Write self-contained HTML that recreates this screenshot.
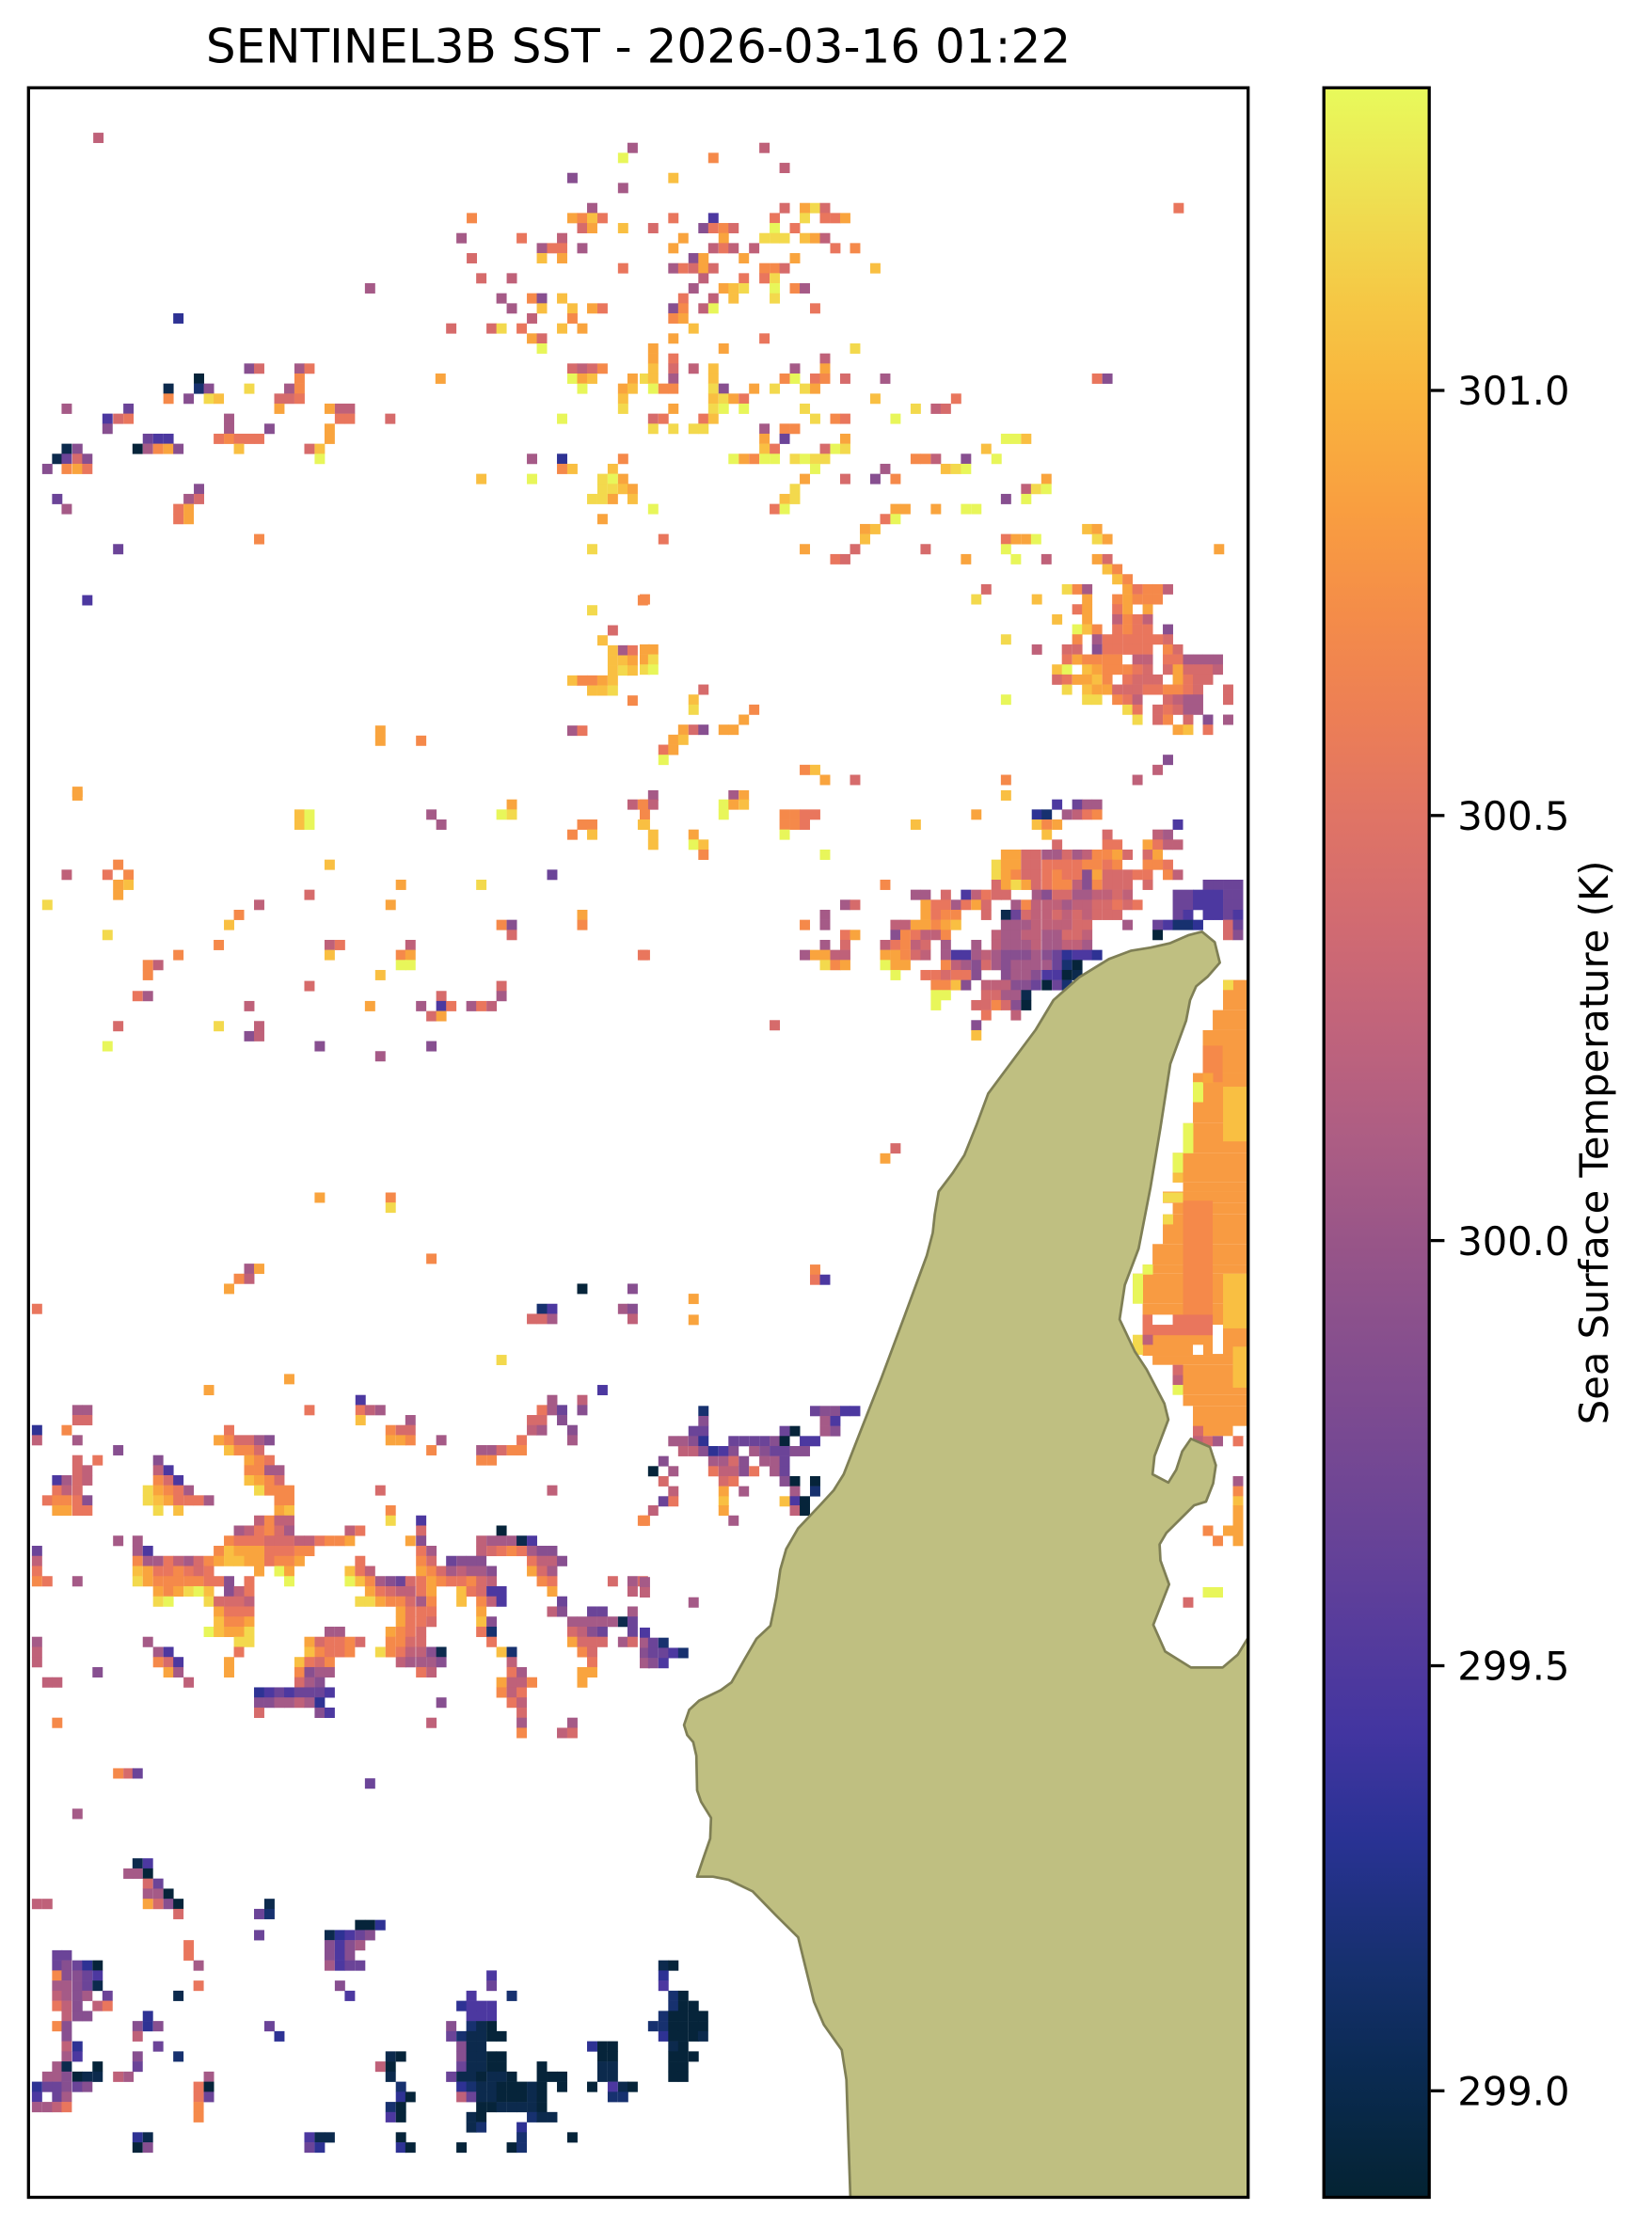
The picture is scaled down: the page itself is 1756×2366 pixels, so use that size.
<!DOCTYPE html>
<html><head><meta charset="utf-8"><style>
html,body{margin:0;padding:0;background:#fff;}
svg{display:block;}
.y{fill:#e8f65a}.g{fill:#f3d94d}.k{fill:#f9bf42}.o{fill:#f9a43e}.r{fill:#f5894a}.s{fill:#e9765d}.p{fill:#d66b6b}.m{fill:#bf6179}.u{fill:#a55a87}.v{fill:#874f90}.w{fill:#6b4498}.i{fill:#4c38a0}.b{fill:#2e3294}.d{fill:#17316f}.n{fill:#0c2a4d}.z{fill:#06243a}.q{fill:#f89b42}.x{fill:#fff}
text{font-family:"DejaVu Sans","Liberation Sans",sans-serif;fill:#000;}
</style></head><body>
<svg width="1756" height="2366" viewBox="0 0 1756 2366" xmlns="http://www.w3.org/2000/svg">
<defs>
<rect id="c" width="26" height="22.6"/>
<clipPath id="ax"><rect x="30.3" y="93.3" width="1296.4" height="2242.2"/></clipPath>
<linearGradient id="cm" x1="0" y1="1" x2="0" y2="0">
<stop offset="0" stop-color="#042333"/><stop offset="0.03" stop-color="#072742"/><stop offset="0.065" stop-color="#0b2b55"/><stop offset="0.11" stop-color="#16306e"/><stop offset="0.17" stop-color="#293294"/><stop offset="0.22" stop-color="#4235a0"/><stop offset="0.27" stop-color="#573c9c"/><stop offset="0.32" stop-color="#6a4496"/><stop offset="0.37" stop-color="#7b4a91"/><stop offset="0.42" stop-color="#8c518c"/><stop offset="0.453" stop-color="#985588"/><stop offset="0.5" stop-color="#ac5d84"/><stop offset="0.55" stop-color="#bf637c"/><stop offset="0.6" stop-color="#d06a72"/><stop offset="0.655" stop-color="#e07465"/><stop offset="0.7" stop-color="#ec7e56"/><stop offset="0.75" stop-color="#f48c49"/><stop offset="0.8" stop-color="#f99e40"/><stop offset="0.856" stop-color="#f9b53e"/><stop offset="0.9" stop-color="#f5c845"/><stop offset="0.95" stop-color="#eee052"/><stop offset="1" stop-color="#e8fa5b"/>
</linearGradient>
</defs>
<rect width="1756" height="2366" fill="#fff"/>
<text x="678.5" y="66.5" font-size="50" text-anchor="middle">SENTINEL3B SST - 2026-03-16 01:22</text>
<g clip-path="url(#ax)">
<!-- Z4 -->
<g transform="translate(20 80) scale(0.42092 0.48469)">
<use href="#c" x="188" y="126" class="m"/><use href="#c" x="1537" y="148" class="u"/><use href="#c" x="1513" y="170" class="y"/><use href="#c" x="1385" y="214" class="v"/><use href="#c" x="1513" y="236" class="u"/><use href="#c" x="1435" y="280" class="u"/>
<use href="#c" x="1131" y="302" class="r"/><use href="#c" x="1385" y="302" class="o"/><use href="#c" x="1410" y="302" class="r"/><use href="#c" x="1435" y="302" class="k"/><use href="#c" x="1461" y="302" class="s"/>
<use href="#c" x="1410" y="324" class="p"/><use href="#c" x="1435" y="324" class="o"/><use href="#c" x="1513" y="324" class="k"/>
<use href="#c" x="1105" y="346" class="u"/><use href="#c" x="1257" y="346" class="s"/><use href="#c" x="1359" y="346" class="m"/>
<use href="#c" x="1308" y="368" class="u"/><use href="#c" x="1334" y="368" class="s"/><use href="#c" x="1359" y="368" class="s"/><use href="#c" x="1410" y="368" class="u"/>
<use href="#c" x="1131" y="390" class="p"/><use href="#c" x="1308" y="390" class="k"/><use href="#c" x="1359" y="390" class="o"/>
<use href="#c" x="1513" y="412" class="s"/><use href="#c" x="1155" y="434" class="p"/><use href="#c" x="1232" y="434" class="m"/><use href="#c" x="874" y="456" class="u"/>
<use href="#c" x="1206" y="478" class="u"/><use href="#c" x="1283" y="478" class="r"/><use href="#c" x="1308" y="478" class="v"/><use href="#c" x="1359" y="478" class="k"/>
<use href="#c" x="1232" y="500" class="u"/><use href="#c" x="1308" y="500" class="k"/><use href="#c" x="1385" y="500" class="k"/><use href="#c" x="1435" y="500" class="o"/><use href="#c" x="1461" y="500" class="s"/>
<use href="#c" x="390" y="522" class="b"/><use href="#c" x="1283" y="522" class="m"/><use href="#c" x="1385" y="522" class="r"/>
<use href="#c" x="1079" y="544" class="p"/><use href="#c" x="1181" y="544" class="p"/><use href="#c" x="1206" y="544" class="g"/><use href="#c" x="1257" y="544" class="s"/><use href="#c" x="1359" y="544" class="k"/><use href="#c" x="1410" y="544" class="o"/>
<use href="#c" x="1283" y="566" class="o"/><use href="#c" x="1308" y="566" class="p"/><use href="#c" x="1308" y="588" class="y"/>
<use href="#c" x="569" y="632" class="v"/><use href="#c" x="594" y="632" class="p"/><use href="#c" x="696" y="632" class="u"/><use href="#c" x="721" y="632" class="s"/><use href="#c" x="1385" y="632" class="p"/><use href="#c" x="1410" y="632" class="m"/><use href="#c" x="1435" y="632" class="p"/><use href="#c" x="1461" y="632" class="r"/>
<use href="#c" x="442" y="654" class="z"/><use href="#c" x="696" y="654" class="r"/><use href="#c" x="1052" y="654" class="o"/><use href="#c" x="1385" y="654" class="y"/><use href="#c" x="1410" y="654" class="o"/><use href="#c" x="1435" y="654" class="k"/><use href="#c" x="1537" y="654" class="o"/>
<use href="#c" x="365" y="676" class="n"/><use href="#c" x="442" y="676" class="d"/><use href="#c" x="467" y="676" class="v"/><use href="#c" x="569" y="676" class="g"/><use href="#c" x="670" y="676" class="u"/><use href="#c" x="696" y="676" class="r"/><use href="#c" x="1410" y="676" class="y"/><use href="#c" x="1513" y="676" class="o"/><use href="#c" x="1537" y="676" class="k"/>
<use href="#c" x="365" y="698" class="r"/><use href="#c" x="416" y="698" class="v"/><use href="#c" x="467" y="698" class="g"/><use href="#c" x="492" y="698" class="k"/><use href="#c" x="645" y="698" class="p"/><use href="#c" x="670" y="698" class="p"/><use href="#c" x="696" y="698" class="s"/><use href="#c" x="1513" y="698" class="k"/>
<use href="#c" x="108" y="720" class="u"/><use href="#c" x="264" y="720" class="w"/><use href="#c" x="645" y="720" class="o"/><use href="#c" x="772" y="720" class="o"/><use href="#c" x="798" y="720" class="m"/><use href="#c" x="823" y="720" class="m"/><use href="#c" x="1513" y="720" class="g"/>
<use href="#c" x="211" y="742" class="i"/><use href="#c" x="238" y="742" class="p"/><use href="#c" x="264" y="742" class="s"/><use href="#c" x="518" y="742" class="u"/><use href="#c" x="798" y="742" class="s"/><use href="#c" x="823" y="742" class="s"/><use href="#c" x="925" y="742" class="p"/><use href="#c" x="1359" y="742" class="y"/>
<use href="#c" x="211" y="764" class="v"/><use href="#c" x="518" y="764" class="u"/><use href="#c" x="620" y="764" class="v"/><use href="#c" x="772" y="764" class="o"/>
<use href="#c" x="313" y="786" class="w"/><use href="#c" x="339" y="786" class="i"/><use href="#c" x="365" y="786" class="i"/><use href="#c" x="492" y="786" class="s"/><use href="#c" x="518" y="786" class="r"/><use href="#c" x="543" y="786" class="s"/><use href="#c" x="569" y="786" class="s"/><use href="#c" x="594" y="786" class="s"/><use href="#c" x="772" y="786" class="o"/>
<use href="#c" x="108" y="808" class="n"/><use href="#c" x="135" y="808" class="v"/><use href="#c" x="287" y="808" class="z"/><use href="#c" x="313" y="808" class="u"/><use href="#c" x="339" y="808" class="r"/><use href="#c" x="365" y="808" class="o"/><use href="#c" x="390" y="808" class="v"/><use href="#c" x="543" y="808" class="k"/><use href="#c" x="721" y="808" class="p"/><use href="#c" x="747" y="808" class="k"/>
<use href="#c" x="84" y="830" class="n"/><use href="#c" x="108" y="830" class="w"/><use href="#c" x="135" y="830" class="p"/><use href="#c" x="160" y="830" class="v"/><use href="#c" x="747" y="830" class="y"/><use href="#c" x="1283" y="830" class="u"/><use href="#c" x="1359" y="830" class="b"/><use href="#c" x="1513" y="830" class="r"/>
<use href="#c" x="59" y="852" class="v"/><use href="#c" x="108" y="852" class="r"/><use href="#c" x="135" y="852" class="o"/><use href="#c" x="160" y="852" class="s"/><use href="#c" x="1359" y="852" class="r"/><use href="#c" x="1385" y="852" class="k"/><use href="#c" x="1487" y="852" class="k"/>
<use href="#c" x="1155" y="874" class="k"/><use href="#c" x="1283" y="874" class="y"/><use href="#c" x="1461" y="874" class="g"/><use href="#c" x="1487" y="874" class="y"/><use href="#c" x="1513" y="874" class="o"/>
<use href="#c" x="442" y="896" class="v"/><use href="#c" x="1461" y="896" class="g"/><use href="#c" x="1487" y="896" class="g"/><use href="#c" x="1513" y="896" class="k"/><use href="#c" x="1537" y="896" class="o"/>
<use href="#c" x="84" y="918" class="w"/><use href="#c" x="416" y="918" class="u"/><use href="#c" x="442" y="918" class="p"/><use href="#c" x="1435" y="918" class="g"/><use href="#c" x="1461" y="918" class="g"/><use href="#c" x="1487" y="918" class="o"/><use href="#c" x="1537" y="918" class="k"/>
<use href="#c" x="108" y="940" class="u"/><use href="#c" x="390" y="940" class="s"/><use href="#c" x="416" y="940" class="o"/>
<use href="#c" x="390" y="962" class="s"/><use href="#c" x="416" y="962" class="o"/><use href="#c" x="1461" y="962" class="o"/>
<use href="#c" x="594" y="1006" class="r"/><use href="#c" x="238" y="1028" class="w"/><use href="#c" x="1435" y="1028" class="g"/>
<use href="#c" x="160" y="1140" class="i"/><use href="#c" x="1563" y="1140" class="r"/><use href="#c" x="1435" y="1162" class="g"/><use href="#c" x="1487" y="1206" class="p"/><use href="#c" x="1461" y="1228" class="k"/>
<use href="#c" x="1487" y="1250" class="k"/><use href="#c" x="1513" y="1250" class="u"/><use href="#c" x="1537" y="1250" class="s"/>
<use href="#c" x="1487" y="1272" class="k"/><use href="#c" x="1513" y="1272" class="k"/><use href="#c" x="1537" y="1272" class="o"/>
<use href="#c" x="1487" y="1294" class="k"/><use href="#c" x="1513" y="1294" class="g"/><use href="#c" x="1537" y="1294" class="k"/>
<use href="#c" x="1385" y="1316" class="k"/><use href="#c" x="1410" y="1316" class="r"/><use href="#c" x="1435" y="1316" class="r"/><use href="#c" x="1461" y="1316" class="o"/><use href="#c" x="1487" y="1316" class="k"/>
<use href="#c" x="1435" y="1338" class="k"/><use href="#c" x="1461" y="1338" class="k"/><use href="#c" x="1487" y="1338" class="g"/>
<use href="#c" x="1537" y="1360" class="r"/><use href="#c" x="900" y="1426" class="o"/><use href="#c" x="900" y="1448" class="o"/><use href="#c" x="1003" y="1448" class="r"/><use href="#c" x="1385" y="1426" class="u"/><use href="#c" x="1410" y="1426" class="s"/><use href="#c" x="135" y="1560" class="o"/>
</g>
<!-- Z5 -->
<g transform="translate(680 80) scale(0.42092 0.48469)">
<use href="#c" x="302" y="148" class="m"/><use href="#c" x="173" y="170" class="r"/><use href="#c" x="353" y="192" class="m"/><use href="#c" x="72" y="214" class="k"/>
<use href="#c" x="353" y="280" class="p"/><use href="#c" x="404" y="280" class="o"/><use href="#c" x="430" y="280" class="g"/><use href="#c" x="455" y="280" class="p"/><use href="#c" x="1348" y="280" class="s"/>
<use href="#c" x="72" y="302" class="s"/><use href="#c" x="173" y="302" class="i"/><use href="#c" x="328" y="302" class="s"/><use href="#c" x="404" y="302" class="g"/><use href="#c" x="455" y="302" class="s"/><use href="#c" x="481" y="302" class="s"/><use href="#c" x="506" y="302" class="o"/>
<use href="#c" x="21" y="324" class="p"/><use href="#c" x="148" y="324" class="v"/><use href="#c" x="173" y="324" class="s"/><use href="#c" x="199" y="324" class="r"/><use href="#c" x="224" y="324" class="p"/><use href="#c" x="328" y="324" class="y"/><use href="#c" x="379" y="324" class="s"/>
<use href="#c" x="97" y="346" class="o"/><use href="#c" x="199" y="346" class="o"/><use href="#c" x="302" y="346" class="g"/><use href="#c" x="328" y="346" class="g"/><use href="#c" x="353" y="346" class="g"/><use href="#c" x="404" y="346" class="k"/><use href="#c" x="430" y="346" class="o"/><use href="#c" x="455" y="346" class="m"/>
<use href="#c" x="72" y="368" class="o"/><use href="#c" x="173" y="368" class="m"/><use href="#c" x="199" y="368" class="s"/><use href="#c" x="224" y="368" class="m"/><use href="#c" x="276" y="368" class="m"/><use href="#c" x="481" y="368" class="s"/><use href="#c" x="531" y="368" class="r"/>
<use href="#c" x="123" y="390" class="v"/><use href="#c" x="148" y="390" class="o"/><use href="#c" x="250" y="390" class="o"/><use href="#c" x="379" y="390" class="o"/>
<use href="#c" x="72" y="412" class="u"/><use href="#c" x="97" y="412" class="s"/><use href="#c" x="123" y="412" class="p"/><use href="#c" x="148" y="412" class="o"/><use href="#c" x="173" y="412" class="p"/><use href="#c" x="302" y="412" class="r"/><use href="#c" x="328" y="412" class="r"/><use href="#c" x="353" y="412" class="p"/><use href="#c" x="582" y="412" class="k"/>
<use href="#c" x="148" y="434" class="m"/><use href="#c" x="250" y="434" class="s"/><use href="#c" x="302" y="434" class="s"/><use href="#c" x="328" y="434" class="g"/>
<use href="#c" x="123" y="456" class="u"/><use href="#c" x="199" y="456" class="o"/><use href="#c" x="224" y="456" class="k"/><use href="#c" x="250" y="456" class="g"/><use href="#c" x="328" y="456" class="y"/><use href="#c" x="379" y="456" class="r"/><use href="#c" x="404" y="456" class="u"/>
<use href="#c" x="97" y="478" class="s"/><use href="#c" x="173" y="478" class="m"/><use href="#c" x="224" y="478" class="k"/><use href="#c" x="328" y="478" class="g"/>
<use href="#c" x="72" y="500" class="v"/><use href="#c" x="97" y="500" class="r"/><use href="#c" x="148" y="500" class="m"/><use href="#c" x="173" y="500" class="y"/><use href="#c" x="430" y="500" class="s"/>
<use href="#c" x="72" y="522" class="r"/><use href="#c" x="97" y="522" class="o"/><use href="#c" x="123" y="544" class="k"/><use href="#c" x="72" y="566" class="o"/><use href="#c" x="302" y="566" class="s"/>
<use href="#c" x="21" y="588" class="o"/><use href="#c" x="199" y="588" class="o"/><use href="#c" x="531" y="588" class="g"/>
<use href="#c" x="21" y="610" class="o"/><use href="#c" x="72" y="610" class="s"/><use href="#c" x="455" y="610" class="m"/>
<use href="#c" x="21" y="632" class="k"/><use href="#c" x="72" y="632" class="p"/><use href="#c" x="123" y="632" class="m"/><use href="#c" x="173" y="632" class="k"/><use href="#c" x="379" y="632" class="u"/><use href="#c" x="455" y="632" class="o"/>
<use href="#c" x="0" y="654" class="g"/><use href="#c" x="21" y="654" class="k"/><use href="#c" x="72" y="654" class="u"/><use href="#c" x="173" y="654" class="k"/><use href="#c" x="353" y="654" class="r"/><use href="#c" x="379" y="654" class="y"/><use href="#c" x="430" y="654" class="s"/><use href="#c" x="455" y="654" class="r"/><use href="#c" x="506" y="654" class="p"/><use href="#c" x="607" y="654" class="u"/><use href="#c" x="1142" y="654" class="s"/><use href="#c" x="1168" y="654" class="v"/>
<use href="#c" x="21" y="676" class="y"/><use href="#c" x="47" y="676" class="r"/><use href="#c" x="72" y="676" class="r"/><use href="#c" x="173" y="676" class="g"/><use href="#c" x="199" y="676" class="v"/><use href="#c" x="276" y="676" class="o"/><use href="#c" x="328" y="676" class="g"/><use href="#c" x="404" y="676" class="g"/><use href="#c" x="430" y="676" class="o"/>
<use href="#c" x="173" y="698" class="k"/><use href="#c" x="199" y="698" class="g"/><use href="#c" x="224" y="698" class="o"/><use href="#c" x="250" y="698" class="s"/><use href="#c" x="582" y="698" class="k"/><use href="#c" x="786" y="698" class="s"/>
<use href="#c" x="72" y="720" class="o"/><use href="#c" x="173" y="720" class="g"/><use href="#c" x="199" y="720" class="y"/><use href="#c" x="250" y="720" class="y"/><use href="#c" x="404" y="720" class="g"/><use href="#c" x="684" y="720" class="g"/><use href="#c" x="735" y="720" class="m"/><use href="#c" x="760" y="720" class="p"/>
<use href="#c" x="21" y="742" class="p"/><use href="#c" x="47" y="742" class="s"/><use href="#c" x="148" y="742" class="s"/><use href="#c" x="173" y="742" class="k"/><use href="#c" x="430" y="742" class="g"/><use href="#c" x="481" y="742" class="r"/><use href="#c" x="506" y="742" class="s"/><use href="#c" x="633" y="742" class="y"/>
<use href="#c" x="21" y="764" class="g"/><use href="#c" x="72" y="764" class="g"/><use href="#c" x="123" y="764" class="g"/><use href="#c" x="148" y="764" class="g"/><use href="#c" x="302" y="764" class="u"/><use href="#c" x="353" y="764" class="r"/><use href="#c" x="379" y="764" class="r"/>
<use href="#c" x="302" y="786" class="o"/><use href="#c" x="353" y="786" class="w"/><use href="#c" x="506" y="786" class="o"/><use href="#c" x="912" y="786" class="y"/><use href="#c" x="937" y="786" class="y"/><use href="#c" x="963" y="786" class="k"/>
<use href="#c" x="302" y="808" class="k"/><use href="#c" x="328" y="808" class="s"/><use href="#c" x="455" y="808" class="p"/><use href="#c" x="481" y="808" class="y"/><use href="#c" x="506" y="808" class="g"/><use href="#c" x="862" y="808" class="k"/>
<use href="#c" x="224" y="830" class="y"/><use href="#c" x="250" y="830" class="o"/><use href="#c" x="276" y="830" class="r"/><use href="#c" x="302" y="830" class="y"/><use href="#c" x="328" y="830" class="y"/><use href="#c" x="379" y="830" class="g"/><use href="#c" x="404" y="830" class="y"/><use href="#c" x="430" y="830" class="g"/><use href="#c" x="455" y="830" class="g"/><use href="#c" x="684" y="830" class="r"/><use href="#c" x="709" y="830" class="r"/><use href="#c" x="735" y="830" class="m"/><use href="#c" x="811" y="830" class="v"/><use href="#c" x="888" y="830" class="y"/>
<use href="#c" x="430" y="852" class="y"/><use href="#c" x="607" y="852" class="u"/><use href="#c" x="760" y="852" class="k"/><use href="#c" x="786" y="852" class="g"/><use href="#c" x="811" y="852" class="y"/>
<use href="#c" x="404" y="874" class="o"/><use href="#c" x="506" y="874" class="p"/><use href="#c" x="582" y="874" class="v"/><use href="#c" x="633" y="874" class="r"/><use href="#c" x="1014" y="874" class="o"/>
<use href="#c" x="379" y="896" class="g"/><use href="#c" x="963" y="896" class="m"/><use href="#c" x="988" y="896" class="g"/><use href="#c" x="1014" y="896" class="y"/>
<use href="#c" x="353" y="918" class="k"/><use href="#c" x="379" y="918" class="g"/><use href="#c" x="912" y="918" class="v"/><use href="#c" x="963" y="918" class="y"/>
<use href="#c" x="21" y="940" class="y"/><use href="#c" x="328" y="940" class="s"/><use href="#c" x="353" y="940" class="y"/><use href="#c" x="633" y="940" class="o"/><use href="#c" x="658" y="940" class="o"/><use href="#c" x="735" y="940" class="o"/><use href="#c" x="811" y="940" class="y"/><use href="#c" x="837" y="940" class="y"/>
<use href="#c" x="607" y="962" class="s"/><use href="#c" x="633" y="962" class="y"/>
<use href="#c" x="556" y="984" class="o"/><use href="#c" x="582" y="984" class="k"/><use href="#c" x="1117" y="984" class="k"/><use href="#c" x="1142" y="984" class="o"/>
<use href="#c" x="47" y="1006" class="s"/><use href="#c" x="556" y="1006" class="k"/><use href="#c" x="912" y="1006" class="s"/><use href="#c" x="937" y="1006" class="o"/><use href="#c" x="963" y="1006" class="o"/><use href="#c" x="988" y="1006" class="y"/><use href="#c" x="1142" y="1006" class="g"/><use href="#c" x="1168" y="1006" class="o"/>
<use href="#c" x="404" y="1028" class="o"/><use href="#c" x="531" y="1028" class="p"/><use href="#c" x="709" y="1028" class="p"/><use href="#c" x="912" y="1028" class="y"/><use href="#c" x="1450" y="1028" class="o"/>
<use href="#c" x="481" y="1050" class="s"/><use href="#c" x="506" y="1050" class="p"/><use href="#c" x="811" y="1050" class="o"/><use href="#c" x="937" y="1050" class="y"/><use href="#c" x="1014" y="1050" class="m"/><use href="#c" x="1142" y="1050" class="o"/><use href="#c" x="1168" y="1050" class="p"/>
<use href="#c" x="1168" y="1072" class="k"/><use href="#c" x="1193" y="1072" class="r"/><use href="#c" x="1193" y="1094" class="k"/><use href="#c" x="1219" y="1094" class="r"/>
<use href="#c" x="862" y="1116" class="p"/><use href="#c" x="1066" y="1116" class="g"/><use href="#c" x="1092" y="1116" class="r"/><use href="#c" x="1117" y="1116" class="u"/><use href="#c" x="1219" y="1116" class="o"/><use href="#c" x="1244" y="1116" class="s"/><use href="#c" x="1270" y="1116" class="r"/><use href="#c" x="1295" y="1116" class="r"/><use href="#c" x="1321" y="1116" class="m"/>
<use href="#c" x="0" y="1138" class="r"/><use href="#c" x="837" y="1138" class="g"/><use href="#c" x="990" y="1138" class="k"/><use href="#c" x="1117" y="1138" class="o"/><use href="#c" x="1193" y="1138" class="r"/><use href="#c" x="1219" y="1138" class="o"/><use href="#c" x="1244" y="1138" class="r"/><use href="#c" x="1270" y="1138" class="r"/><use href="#c" x="1295" y="1138" class="r"/>
<use href="#c" x="1092" y="1160" class="s"/><use href="#c" x="1117" y="1160" class="o"/><use href="#c" x="1193" y="1160" class="s"/><use href="#c" x="1219" y="1160" class="o"/><use href="#c" x="1270" y="1160" class="o"/>
<use href="#c" x="1041" y="1182" class="k"/><use href="#c" x="1117" y="1182" class="o"/><use href="#c" x="1193" y="1182" class="m"/><use href="#c" x="1219" y="1182" class="r"/><use href="#c" x="1244" y="1182" class="s"/><use href="#c" x="1270" y="1182" class="m"/>
<use href="#c" x="1092" y="1204" class="y"/><use href="#c" x="1117" y="1204" class="k"/><use href="#c" x="1142" y="1204" class="r"/><use href="#c" x="1193" y="1204" class="s"/><use href="#c" x="1219" y="1204" class="r"/><use href="#c" x="1244" y="1204" class="s"/><use href="#c" x="1270" y="1204" class="s"/><use href="#c" x="1321" y="1204" class="v"/>
<use href="#c" x="912" y="1226" class="g"/><use href="#c" x="1092" y="1226" class="r"/><use href="#c" x="1142" y="1226" class="u"/><use href="#c" x="1168" y="1226" class="s"/><use href="#c" x="1193" y="1226" class="s"/><use href="#c" x="1219" y="1226" class="s"/><use href="#c" x="1244" y="1226" class="s"/><use href="#c" x="1270" y="1226" class="s"/><use href="#c" x="1295" y="1226" class="s"/><use href="#c" x="1321" y="1226" class="p"/>
<use href="#c" x="0" y="1248" class="o"/><use href="#c" x="21" y="1248" class="o"/><use href="#c" x="990" y="1248" class="m"/><use href="#c" x="1066" y="1248" class="p"/><use href="#c" x="1092" y="1248" class="p"/><use href="#c" x="1142" y="1248" class="v"/><use href="#c" x="1168" y="1248" class="s"/><use href="#c" x="1193" y="1248" class="s"/><use href="#c" x="1219" y="1248" class="s"/><use href="#c" x="1244" y="1248" class="s"/><use href="#c" x="1270" y="1248" class="s"/><use href="#c" x="1321" y="1248" class="r"/><use href="#c" x="1346" y="1248" class="p"/>
<use href="#c" x="0" y="1270" class="o"/><use href="#c" x="21" y="1270" class="g"/><use href="#c" x="1066" y="1270" class="s"/><use href="#c" x="1092" y="1270" class="o"/><use href="#c" x="1117" y="1270" class="r"/><use href="#c" x="1142" y="1270" class="r"/><use href="#c" x="1168" y="1270" class="r"/><use href="#c" x="1193" y="1270" class="r"/><use href="#c" x="1244" y="1270" class="m"/><use href="#c" x="1270" y="1270" class="m"/><use href="#c" x="1321" y="1270" class="s"/><use href="#c" x="1346" y="1270" class="s"/><use href="#c" x="1372" y="1270" class="u"/><use href="#c" x="1397" y="1270" class="u"/><use href="#c" x="1422" y="1270" class="u"/><use href="#c" x="1447" y="1270" class="u"/>
<use href="#c" x="0" y="1292" class="g"/><use href="#c" x="21" y="1292" class="y"/><use href="#c" x="1041" y="1292" class="k"/><use href="#c" x="1066" y="1292" class="y"/><use href="#c" x="1117" y="1292" class="k"/><use href="#c" x="1142" y="1292" class="o"/><use href="#c" x="1168" y="1292" class="r"/><use href="#c" x="1193" y="1292" class="r"/><use href="#c" x="1219" y="1292" class="r"/><use href="#c" x="1244" y="1292" class="s"/><use href="#c" x="1270" y="1292" class="p"/><use href="#c" x="1321" y="1292" class="p"/><use href="#c" x="1346" y="1292" class="o"/><use href="#c" x="1372" y="1292" class="p"/><use href="#c" x="1397" y="1292" class="p"/><use href="#c" x="1422" y="1292" class="p"/><use href="#c" x="1447" y="1292" class="m"/>
<use href="#c" x="1041" y="1314" class="p"/><use href="#c" x="1066" y="1314" class="s"/><use href="#c" x="1092" y="1314" class="o"/><use href="#c" x="1117" y="1314" class="o"/><use href="#c" x="1142" y="1314" class="k"/><use href="#c" x="1168" y="1314" class="r"/><use href="#c" x="1219" y="1314" class="s"/><use href="#c" x="1244" y="1314" class="p"/><use href="#c" x="1270" y="1314" class="p"/><use href="#c" x="1295" y="1314" class="p"/><use href="#c" x="1346" y="1314" class="o"/><use href="#c" x="1372" y="1314" class="s"/><use href="#c" x="1397" y="1314" class="p"/><use href="#c" x="1422" y="1314" class="p"/>
<use href="#c" x="148" y="1336" class="p"/><use href="#c" x="1066" y="1336" class="g"/><use href="#c" x="1117" y="1336" class="k"/><use href="#c" x="1142" y="1336" class="o"/><use href="#c" x="1168" y="1336" class="o"/><use href="#c" x="1193" y="1336" class="p"/><use href="#c" x="1219" y="1336" class="p"/><use href="#c" x="1244" y="1336" class="p"/><use href="#c" x="1270" y="1336" class="s"/><use href="#c" x="1295" y="1336" class="s"/><use href="#c" x="1321" y="1336" class="r"/><use href="#c" x="1346" y="1336" class="r"/><use href="#c" x="1372" y="1336" class="s"/><use href="#c" x="1397" y="1336" class="p"/><use href="#c" x="1473" y="1336" class="p"/>
<use href="#c" x="123" y="1358" class="k"/><use href="#c" x="912" y="1358" class="y"/><use href="#c" x="1117" y="1358" class="g"/><use href="#c" x="1142" y="1358" class="g"/><use href="#c" x="1193" y="1358" class="r"/><use href="#c" x="1219" y="1358" class="s"/><use href="#c" x="1244" y="1358" class="m"/><use href="#c" x="1321" y="1358" class="p"/><use href="#c" x="1346" y="1358" class="m"/><use href="#c" x="1372" y="1358" class="u"/><use href="#c" x="1397" y="1358" class="u"/><use href="#c" x="1473" y="1358" class="p"/>
<use href="#c" x="123" y="1380" class="g"/><use href="#c" x="276" y="1380" class="r"/><use href="#c" x="1219" y="1380" class="g"/><use href="#c" x="1244" y="1380" class="s"/><use href="#c" x="1295" y="1380" class="p"/><use href="#c" x="1321" y="1380" class="s"/><use href="#c" x="1346" y="1380" class="p"/><use href="#c" x="1372" y="1380" class="u"/><use href="#c" x="1397" y="1380" class="u"/>
<use href="#c" x="250" y="1402" class="o"/><use href="#c" x="1244" y="1402" class="g"/><use href="#c" x="1295" y="1402" class="p"/><use href="#c" x="1321" y="1402" class="r"/><use href="#c" x="1372" y="1402" class="p"/><use href="#c" x="1422" y="1402" class="v"/><use href="#c" x="1473" y="1402" class="u"/>
<use href="#c" x="97" y="1424" class="o"/><use href="#c" x="123" y="1424" class="p"/><use href="#c" x="148" y="1424" class="v"/><use href="#c" x="199" y="1424" class="o"/><use href="#c" x="224" y="1424" class="o"/><use href="#c" x="1346" y="1424" class="o"/><use href="#c" x="1372" y="1424" class="k"/><use href="#c" x="1422" y="1424" class="s"/>
<use href="#c" x="72" y="1446" class="o"/><use href="#c" x="97" y="1446" class="k"/><use href="#c" x="47" y="1468" class="s"/><use href="#c" x="72" y="1468" class="o"/><use href="#c" x="47" y="1490" class="y"/><use href="#c" x="1321" y="1490" class="v"/>
<use href="#c" x="404" y="1512" class="r"/><use href="#c" x="430" y="1512" class="k"/><use href="#c" x="1295" y="1512" class="m"/>
<use href="#c" x="455" y="1534" class="o"/><use href="#c" x="531" y="1534" class="p"/><use href="#c" x="912" y="1534" class="r"/><use href="#c" x="1244" y="1534" class="m"/>
</g>
<!-- Z6 -->
<g transform="translate(680 840) scale(0.42092 0.48469)">
<use href="#c" x="21" y="0" class="u"/><use href="#c" x="224" y="0" class="u"/><use href="#c" x="250" y="0" class="o"/><use href="#c" x="912" y="0" class="k"/>
<use href="#c" x="0" y="20" class="s"/><use href="#c" x="21" y="20" class="m"/><use href="#c" x="199" y="20" class="y"/><use href="#c" x="224" y="20" class="o"/><use href="#c" x="250" y="20" class="k"/><use href="#c" x="1041" y="20" class="i"/><use href="#c" x="1092" y="20" class="w"/><use href="#c" x="1117" y="20" class="u"/><use href="#c" x="1142" y="20" class="u"/>
<use href="#c" x="0" y="42" class="r"/><use href="#c" x="199" y="42" class="y"/><use href="#c" x="353" y="42" class="r"/><use href="#c" x="379" y="42" class="r"/><use href="#c" x="404" y="42" class="s"/><use href="#c" x="430" y="42" class="s"/><use href="#c" x="837" y="42" class="o"/><use href="#c" x="990" y="42" class="b"/><use href="#c" x="1015" y="42" class="d"/><use href="#c" x="1066" y="42" class="u"/><use href="#c" x="1092" y="42" class="m"/><use href="#c" x="1117" y="42" class="s"/><use href="#c" x="1142" y="42" class="r"/>
<use href="#c" x="0" y="64" class="k"/><use href="#c" x="353" y="64" class="r"/><use href="#c" x="379" y="64" class="r"/><use href="#c" x="404" y="64" class="s"/><use href="#c" x="684" y="64" class="k"/><use href="#c" x="990" y="64" class="k"/><use href="#c" x="1015" y="64" class="r"/><use href="#c" x="1041" y="64" class="o"/><use href="#c" x="1346" y="64" class="i"/>
<use href="#c" x="21" y="86" class="k"/><use href="#c" x="123" y="86" class="o"/><use href="#c" x="353" y="86" class="y"/><use href="#c" x="1015" y="86" class="k"/><use href="#c" x="1168" y="86" class="p"/><use href="#c" x="1295" y="86" class="m"/><use href="#c" x="1321" y="86" class="u"/>
<use href="#c" x="21" y="108" class="k"/><use href="#c" x="123" y="108" class="y"/><use href="#c" x="148" y="108" class="k"/><use href="#c" x="1041" y="108" class="p"/><use href="#c" x="1168" y="108" class="s"/><use href="#c" x="1193" y="108" class="s"/><use href="#c" x="1270" y="108" class="o"/><use href="#c" x="1295" y="108" class="s"/><use href="#c" x="1321" y="108" class="m"/><use href="#c" x="1346" y="108" class="m"/>
<use href="#c" x="148" y="130" class="r"/><use href="#c" x="455" y="130" class="y"/><use href="#c" x="912" y="130" class="o"/><use href="#c" x="937" y="130" class="o"/><use href="#c" x="963" y="130" class="p"/><use href="#c" x="988" y="130" class="p"/><use href="#c" x="1015" y="130" class="u"/><use href="#c" x="1041" y="130" class="u"/><use href="#c" x="1066" y="130" class="p"/><use href="#c" x="1092" y="130" class="u"/><use href="#c" x="1117" y="130" class="m"/><use href="#c" x="1142" y="130" class="r"/><use href="#c" x="1168" y="130" class="r"/><use href="#c" x="1193" y="130" class="o"/><use href="#c" x="1219" y="130" class="p"/><use href="#c" x="1270" y="130" class="p"/><use href="#c" x="1295" y="130" class="o"/>
<use href="#c" x="888" y="152" class="g"/><use href="#c" x="912" y="152" class="o"/><use href="#c" x="937" y="152" class="o"/><use href="#c" x="963" y="152" class="p"/><use href="#c" x="988" y="152" class="p"/><use href="#c" x="1015" y="152" class="s"/><use href="#c" x="1041" y="152" class="s"/><use href="#c" x="1066" y="152" class="s"/><use href="#c" x="1092" y="152" class="s"/><use href="#c" x="1117" y="152" class="r"/><use href="#c" x="1142" y="152" class="r"/><use href="#c" x="1168" y="152" class="s"/><use href="#c" x="1193" y="152" class="r"/><use href="#c" x="1270" y="152" class="r"/><use href="#c" x="1295" y="152" class="r"/><use href="#c" x="1321" y="152" class="s"/>
<use href="#c" x="888" y="174" class="g"/><use href="#c" x="912" y="174" class="o"/><use href="#c" x="937" y="174" class="r"/><use href="#c" x="963" y="174" class="p"/><use href="#c" x="988" y="174" class="p"/><use href="#c" x="1015" y="174" class="s"/><use href="#c" x="1041" y="174" class="r"/><use href="#c" x="1066" y="174" class="s"/><use href="#c" x="1092" y="174" class="s"/><use href="#c" x="1117" y="174" class="v"/><use href="#c" x="1142" y="174" class="o"/><use href="#c" x="1168" y="174" class="p"/><use href="#c" x="1193" y="174" class="p"/><use href="#c" x="1219" y="174" class="p"/><use href="#c" x="1244" y="174" class="s"/><use href="#c" x="1270" y="174" class="s"/><use href="#c" x="1321" y="174" class="r"/><use href="#c" x="1346" y="174" class="m"/>
<use href="#c" x="607" y="196" class="r"/><use href="#c" x="888" y="196" class="p"/><use href="#c" x="912" y="196" class="o"/><use href="#c" x="937" y="196" class="g"/><use href="#c" x="963" y="196" class="o"/><use href="#c" x="988" y="196" class="p"/><use href="#c" x="1015" y="196" class="s"/><use href="#c" x="1041" y="196" class="r"/><use href="#c" x="1066" y="196" class="r"/><use href="#c" x="1092" y="196" class="m"/><use href="#c" x="1117" y="196" class="v"/><use href="#c" x="1142" y="196" class="r"/><use href="#c" x="1168" y="196" class="p"/><use href="#c" x="1193" y="196" class="p"/><use href="#c" x="1219" y="196" class="p"/><use href="#c" x="1270" y="196" class="p"/><use href="#c" x="1422" y="196" class="w"/><use href="#c" x="1447" y="196" class="w"/><use href="#c" x="1473" y="196" class="w"/><use href="#c" x="1498" y="196" class="w"/>
<use href="#c" x="684" y="218" class="u"/><use href="#c" x="709" y="218" class="u"/><use href="#c" x="760" y="218" class="p"/><use href="#c" x="811" y="218" class="i"/><use href="#c" x="837" y="218" class="m"/><use href="#c" x="862" y="218" class="s"/><use href="#c" x="888" y="218" class="p"/><use href="#c" x="912" y="218" class="p"/><use href="#c" x="990" y="218" class="u"/><use href="#c" x="1015" y="218" class="v"/><use href="#c" x="1041" y="218" class="p"/><use href="#c" x="1066" y="218" class="p"/><use href="#c" x="1092" y="218" class="u"/><use href="#c" x="1117" y="218" class="u"/><use href="#c" x="1142" y="218" class="m"/><use href="#c" x="1168" y="218" class="m"/><use href="#c" x="1193" y="218" class="p"/><use href="#c" x="1219" y="218" class="m"/><use href="#c" x="1346" y="218" class="w"/><use href="#c" x="1372" y="218" class="w"/><use href="#c" x="1397" y="218" class="i"/><use href="#c" x="1422" y="218" class="i"/><use href="#c" x="1447" y="218" class="i"/><use href="#c" x="1473" y="218" class="w"/><use href="#c" x="1498" y="218" class="w"/>
<use href="#c" x="506" y="240" class="u"/><use href="#c" x="531" y="240" class="p"/><use href="#c" x="709" y="240" class="o"/><use href="#c" x="735" y="240" class="s"/><use href="#c" x="760" y="240" class="s"/><use href="#c" x="786" y="240" class="u"/><use href="#c" x="811" y="240" class="s"/><use href="#c" x="837" y="240" class="o"/><use href="#c" x="862" y="240" class="p"/><use href="#c" x="937" y="240" class="u"/><use href="#c" x="963" y="240" class="r"/><use href="#c" x="988" y="240" class="m"/><use href="#c" x="1015" y="240" class="m"/><use href="#c" x="1041" y="240" class="m"/><use href="#c" x="1066" y="240" class="u"/><use href="#c" x="1092" y="240" class="m"/><use href="#c" x="1117" y="240" class="m"/><use href="#c" x="1142" y="240" class="p"/><use href="#c" x="1168" y="240" class="p"/><use href="#c" x="1193" y="240" class="s"/><use href="#c" x="1219" y="240" class="p"/><use href="#c" x="1244" y="240" class="s"/><use href="#c" x="1346" y="240" class="w"/><use href="#c" x="1372" y="240" class="w"/><use href="#c" x="1397" y="240" class="i"/><use href="#c" x="1422" y="240" class="i"/><use href="#c" x="1447" y="240" class="i"/><use href="#c" x="1473" y="240" class="w"/><use href="#c" x="1498" y="240" class="w"/>
<use href="#c" x="455" y="262" class="u"/><use href="#c" x="709" y="262" class="o"/><use href="#c" x="735" y="262" class="s"/><use href="#c" x="760" y="262" class="r"/><use href="#c" x="786" y="262" class="r"/><use href="#c" x="862" y="262" class="p"/><use href="#c" x="912" y="262" class="n"/><use href="#c" x="937" y="262" class="w"/><use href="#c" x="963" y="262" class="p"/><use href="#c" x="988" y="262" class="m"/><use href="#c" x="1015" y="262" class="m"/><use href="#c" x="1041" y="262" class="p"/><use href="#c" x="1066" y="262" class="m"/><use href="#c" x="1092" y="262" class="p"/><use href="#c" x="1117" y="262" class="m"/><use href="#c" x="1142" y="262" class="p"/><use href="#c" x="1168" y="262" class="p"/><use href="#c" x="1193" y="262" class="p"/><use href="#c" x="1346" y="262" class="w"/><use href="#c" x="1372" y="262" class="i"/><use href="#c" x="1422" y="262" class="i"/><use href="#c" x="1447" y="262" class="i"/><use href="#c" x="1473" y="262" class="w"/><use href="#c" x="1498" y="262" class="i"/>
<use href="#c" x="404" y="284" class="r"/><use href="#c" x="455" y="284" class="u"/><use href="#c" x="633" y="284" class="m"/><use href="#c" x="658" y="284" class="m"/><use href="#c" x="684" y="284" class="o"/><use href="#c" x="709" y="284" class="o"/><use href="#c" x="735" y="284" class="r"/><use href="#c" x="760" y="284" class="o"/><use href="#c" x="786" y="284" class="k"/><use href="#c" x="912" y="284" class="u"/><use href="#c" x="937" y="284" class="u"/><use href="#c" x="963" y="284" class="u"/><use href="#c" x="988" y="284" class="m"/><use href="#c" x="1015" y="284" class="m"/><use href="#c" x="1041" y="284" class="m"/><use href="#c" x="1066" y="284" class="m"/><use href="#c" x="1092" y="284" class="p"/><use href="#c" x="1117" y="284" class="p"/><use href="#c" x="1219" y="284" class="u"/><use href="#c" x="1295" y="284" class="w"/><use href="#c" x="1321" y="284" class="i"/><use href="#c" x="1346" y="284" class="d"/><use href="#c" x="1372" y="284" class="d"/><use href="#c" x="1397" y="284" class="b"/><use href="#c" x="1473" y="284" class="p"/><use href="#c" x="1498" y="284" class="w"/>
<use href="#c" x="506" y="306" class="s"/><use href="#c" x="531" y="306" class="o"/><use href="#c" x="633" y="306" class="v"/><use href="#c" x="658" y="306" class="r"/><use href="#c" x="684" y="306" class="s"/><use href="#c" x="709" y="306" class="m"/><use href="#c" x="735" y="306" class="m"/><use href="#c" x="760" y="306" class="r"/><use href="#c" x="888" y="306" class="m"/><use href="#c" x="912" y="306" class="u"/><use href="#c" x="937" y="306" class="u"/><use href="#c" x="963" y="306" class="m"/><use href="#c" x="988" y="306" class="m"/><use href="#c" x="1015" y="306" class="u"/><use href="#c" x="1041" y="306" class="u"/><use href="#c" x="1066" y="306" class="p"/><use href="#c" x="1092" y="306" class="p"/><use href="#c" x="1117" y="306" class="m"/><use href="#c" x="1295" y="306" class="z"/><use href="#c" x="1473" y="306" class="p"/><use href="#c" x="1498" y="306" class="v"/>
<use href="#c" x="455" y="328" class="u"/><use href="#c" x="506" y="328" class="p"/><use href="#c" x="607" y="328" class="m"/><use href="#c" x="633" y="328" class="s"/><use href="#c" x="658" y="328" class="r"/><use href="#c" x="684" y="328" class="m"/><use href="#c" x="709" y="328" class="p"/><use href="#c" x="760" y="328" class="u"/><use href="#c" x="837" y="328" class="u"/><use href="#c" x="888" y="328" class="m"/><use href="#c" x="912" y="328" class="u"/><use href="#c" x="937" y="328" class="u"/><use href="#c" x="963" y="328" class="u"/><use href="#c" x="988" y="328" class="m"/><use href="#c" x="1015" y="328" class="u"/><use href="#c" x="1041" y="328" class="u"/><use href="#c" x="1066" y="328" class="m"/><use href="#c" x="1092" y="328" class="m"/><use href="#c" x="1117" y="328" class="u"/>
<use href="#c" x="0" y="350" class="s"/><use href="#c" x="404" y="350" class="u"/><use href="#c" x="430" y="350" class="o"/><use href="#c" x="455" y="350" class="o"/><use href="#c" x="481" y="350" class="m"/><use href="#c" x="506" y="350" class="m"/><use href="#c" x="607" y="350" class="o"/><use href="#c" x="633" y="350" class="o"/><use href="#c" x="658" y="350" class="r"/><use href="#c" x="684" y="350" class="p"/><use href="#c" x="709" y="350" class="m"/><use href="#c" x="760" y="350" class="u"/><use href="#c" x="786" y="350" class="i"/><use href="#c" x="811" y="350" class="i"/><use href="#c" x="837" y="350" class="u"/><use href="#c" x="862" y="350" class="m"/><use href="#c" x="888" y="350" class="u"/><use href="#c" x="912" y="350" class="v"/><use href="#c" x="937" y="350" class="v"/><use href="#c" x="963" y="350" class="v"/><use href="#c" x="988" y="350" class="u"/><use href="#c" x="1015" y="350" class="v"/><use href="#c" x="1041" y="350" class="w"/><use href="#c" x="1066" y="350" class="b"/><use href="#c" x="1092" y="350" class="i"/><use href="#c" x="1117" y="350" class="i"/><use href="#c" x="1142" y="350" class="b"/>
<use href="#c" x="455" y="372" class="g"/><use href="#c" x="481" y="372" class="r"/><use href="#c" x="506" y="372" class="o"/><use href="#c" x="607" y="372" class="y"/><use href="#c" x="633" y="372" class="o"/><use href="#c" x="658" y="372" class="o"/><use href="#c" x="760" y="372" class="r"/><use href="#c" x="786" y="372" class="m"/><use href="#c" x="811" y="372" class="u"/><use href="#c" x="837" y="372" class="v"/><use href="#c" x="862" y="372" class="p"/><use href="#c" x="888" y="372" class="u"/><use href="#c" x="912" y="372" class="v"/><use href="#c" x="937" y="372" class="u"/><use href="#c" x="963" y="372" class="u"/><use href="#c" x="988" y="372" class="u"/><use href="#c" x="1015" y="372" class="u"/><use href="#c" x="1041" y="372" class="w"/><use href="#c" x="1066" y="372" class="d"/><use href="#c" x="1092" y="372" class="z"/>
<use href="#c" x="633" y="394" class="y"/><use href="#c" x="709" y="394" class="s"/><use href="#c" x="735" y="394" class="s"/><use href="#c" x="760" y="394" class="p"/><use href="#c" x="786" y="394" class="s"/><use href="#c" x="811" y="394" class="s"/><use href="#c" x="837" y="394" class="v"/><use href="#c" x="912" y="394" class="v"/><use href="#c" x="937" y="394" class="u"/><use href="#c" x="963" y="394" class="u"/><use href="#c" x="988" y="394" class="v"/><use href="#c" x="1015" y="394" class="i"/><use href="#c" x="1041" y="394" class="i"/><use href="#c" x="1066" y="394" class="z"/><use href="#c" x="1092" y="394" class="n"/>
<use href="#c" x="735" y="416" class="r"/><use href="#c" x="760" y="416" class="r"/><use href="#c" x="786" y="416" class="k"/><use href="#c" x="811" y="416" class="v"/><use href="#c" x="862" y="416" class="m"/><use href="#c" x="888" y="416" class="m"/><use href="#c" x="912" y="416" class="m"/><use href="#c" x="937" y="416" class="v"/><use href="#c" x="963" y="416" class="v"/><use href="#c" x="988" y="416" class="w"/><use href="#c" x="1015" y="416" class="z"/><use href="#c" x="1041" y="416" class="w"/><use href="#c" x="1066" y="416" class="d"/>
<use href="#c" x="735" y="438" class="y"/><use href="#c" x="760" y="438" class="y"/><use href="#c" x="862" y="438" class="p"/><use href="#c" x="888" y="438" class="p"/><use href="#c" x="912" y="438" class="u"/><use href="#c" x="937" y="438" class="u"/><use href="#c" x="963" y="438" class="n"/>
<use href="#c" x="735" y="460" class="y"/><use href="#c" x="837" y="460" class="p"/><use href="#c" x="862" y="460" class="p"/><use href="#c" x="888" y="460" class="r"/><use href="#c" x="912" y="460" class="p"/><use href="#c" x="937" y="460" class="v"/><use href="#c" x="963" y="460" class="z"/>
<use href="#c" x="862" y="482" class="s"/><use href="#c" x="937" y="482" class="m"/><use href="#c" x="328" y="504" class="p"/><use href="#c" x="837" y="504" class="v"/><use href="#c" x="837" y="526" class="k"/>
<use href="#c" x="633" y="774" class="p"/><use href="#c" x="607" y="796" class="o"/>
<use href="#c" x="430" y="1040" class="r"/><use href="#c" x="430" y="1062" class="s"/><use href="#c" x="455" y="1062" class="i"/><use href="#c" x="123" y="1104" class="o"/><use href="#c" x="123" y="1150" class="o"/>
<!-- strip -->
<rect class="q" x="1473" y="416" width="62" height="66"/><rect class="q" x="1447" y="482" width="88" height="44"/><rect class="q" x="1422" y="526" width="113" height="94"/><rect class="q" x="1397" y="620" width="138" height="110"/><rect class="q" x="1372" y="730" width="163" height="65"/><rect class="q" x="1346" y="795" width="189" height="65"/><rect class="q" x="1372" y="860" width="163" height="20"/><rect class="q" x="1321" y="880" width="214" height="25"/><rect class="q" x="1346" y="905" width="189" height="25"/><rect class="q" x="1321" y="930" width="214" height="65"/><rect class="q" x="1295" y="995" width="240" height="45"/><rect class="q" x="1270" y="1040" width="265" height="20"/><rect class="q" x="1245" y="1060" width="290" height="65"/><rect class="q" x="1270" y="1125" width="265" height="115"/><rect class="q" x="1295" y="1240" width="240" height="20"/><rect class="q" x="1346" y="1260" width="189" height="65"/><rect class="q" x="1372" y="1325" width="163" height="25"/><rect class="q" x="1397" y="1350" width="138" height="66"/>
<rect class="r" x="1372" y="900" width="75" height="250"/><rect class="r" x="1422" y="560" width="50" height="80"/><rect class="k" x="1473" y="650" width="62" height="120"/><rect class="k" x="1473" y="1060" width="62" height="120"/><rect class="k" x="1498" y="1220" width="37" height="90"/>
<rect class="s" x="1270" y="1150" width="177" height="45"/><rect class="x" x="1295" y="1150" width="51" height="22"/><rect class="x" x="1447" y="1172" width="26" height="64"/><rect class="x" x="1397" y="1216" width="26" height="22"/>
<rect class="y" x="1397" y="640" width="26" height="44"/><rect class="y" x="1372" y="730" width="26" height="66"/><rect class="y" x="1346" y="795" width="26" height="44"/><rect class="k" x="1346" y="840" width="26" height="20"/><rect class="g" x="1321" y="882" width="51" height="22"/><rect class="g" x="1321" y="930" width="26" height="22"/><rect class="y" x="1270" y="1040" width="26" height="22"/><rect class="y" x="1245" y="1060" width="26" height="66"/><rect class="g" x="1245" y="1194" width="26" height="44"/><rect class="m" x="1270" y="1194" width="26" height="22"/><rect class="p" x="1346" y="1260" width="26" height="22"/><rect class="m" x="1346" y="1282" width="26" height="22"/><rect class="y" x="1346" y="1304" width="26" height="22"/><rect class="g" x="1473" y="416" width="26" height="22"/><rect class="o" x="1422" y="620" width="26" height="22"/><rect class="x" x="1498" y="1394" width="37" height="22"/>
<use href="#c" x="1397" y="1394" class="p"/><use href="#c" x="1397" y="1416" class="m"/><use href="#c" x="1422" y="1416" class="p"/><use href="#c" x="1447" y="1416" class="u"/><use href="#c" x="1498" y="1416" class="s"/><use href="#c" x="1498" y="1504" class="u"/><use href="#c" x="1498" y="1526" class="r"/><use href="#c" x="1498" y="1548" class="k"/>
<!-- bottom-left of Z6 -->
<use href="#c" x="148" y="1350" class="d"/><use href="#c" x="430" y="1350" class="w"/><use href="#c" x="455" y="1350" class="v"/><use href="#c" x="481" y="1350" class="v"/><use href="#c" x="506" y="1350" class="i"/><use href="#c" x="531" y="1350" class="i"/>
<use href="#c" x="148" y="1372" class="v"/><use href="#c" x="455" y="1372" class="u"/><use href="#c" x="481" y="1372" class="i"/>
<use href="#c" x="123" y="1394" class="w"/><use href="#c" x="148" y="1394" class="w"/><use href="#c" x="353" y="1394" class="w"/><use href="#c" x="379" y="1394" class="z"/><use href="#c" x="455" y="1394" class="u"/><use href="#c" x="481" y="1394" class="v"/>
<use href="#c" x="72" y="1416" class="u"/><use href="#c" x="97" y="1416" class="u"/><use href="#c" x="123" y="1416" class="v"/><use href="#c" x="148" y="1416" class="b"/><use href="#c" x="224" y="1416" class="w"/><use href="#c" x="250" y="1416" class="w"/><use href="#c" x="276" y="1416" class="w"/><use href="#c" x="302" y="1416" class="w"/><use href="#c" x="328" y="1416" class="v"/><use href="#c" x="353" y="1416" class="z"/><use href="#c" x="404" y="1416" class="i"/><use href="#c" x="430" y="1416" class="i"/>
<use href="#c" x="97" y="1438" class="m"/><use href="#c" x="123" y="1438" class="m"/><use href="#c" x="148" y="1438" class="v"/><use href="#c" x="173" y="1438" class="b"/><use href="#c" x="199" y="1438" class="i"/><use href="#c" x="224" y="1438" class="v"/><use href="#c" x="276" y="1438" class="u"/><use href="#c" x="302" y="1438" class="v"/><use href="#c" x="328" y="1438" class="w"/><use href="#c" x="353" y="1438" class="w"/><use href="#c" x="379" y="1438" class="v"/><use href="#c" x="404" y="1438" class="v"/>
<use href="#c" x="47" y="1460" class="v"/><use href="#c" x="173" y="1460" class="u"/><use href="#c" x="199" y="1460" class="u"/><use href="#c" x="224" y="1460" class="p"/><use href="#c" x="250" y="1460" class="v"/><use href="#c" x="302" y="1460" class="u"/><use href="#c" x="328" y="1460" class="u"/><use href="#c" x="353" y="1460" class="w"/>
<use href="#c" x="21" y="1482" class="z"/><use href="#c" x="72" y="1482" class="u"/><use href="#c" x="173" y="1482" class="s"/><use href="#c" x="199" y="1482" class="m"/><use href="#c" x="224" y="1482" class="m"/><use href="#c" x="250" y="1482" class="v"/><use href="#c" x="276" y="1482" class="s"/><use href="#c" x="328" y="1482" class="u"/><use href="#c" x="353" y="1482" class="w"/>
<use href="#c" x="47" y="1504" class="p"/><use href="#c" x="199" y="1504" class="p"/><use href="#c" x="224" y="1504" class="s"/><use href="#c" x="353" y="1504" class="v"/><use href="#c" x="379" y="1504" class="z"/><use href="#c" x="430" y="1504" class="z"/>
<use href="#c" x="72" y="1526" class="m"/><use href="#c" x="199" y="1526" class="o"/><use href="#c" x="250" y="1526" class="u"/><use href="#c" x="379" y="1526" class="u"/><use href="#c" x="430" y="1526" class="d"/>
<use href="#c" x="47" y="1548" class="w"/><use href="#c" x="72" y="1548" class="s"/><use href="#c" x="199" y="1548" class="k"/><use href="#c" x="353" y="1548" class="k"/><use href="#c" x="379" y="1548" class="i"/><use href="#c" x="404" y="1548" class="z"/>
</g>
<!-- Z7 -->
<g transform="translate(20 840) scale(0.42092 0.48469)">
<use href="#c" x="135" y="0" class="o"/><use href="#c" x="1232" y="20" class="o"/><use href="#c" x="1537" y="20" class="m"/><use href="#c" x="1563" y="20" class="r"/>
<use href="#c" x="696" y="42" class="k"/><use href="#c" x="696" y="64" class="k"/><use href="#c" x="721" y="42" class="y"/><use href="#c" x="721" y="64" class="y"/><use href="#c" x="1029" y="42" class="u"/><use href="#c" x="1206" y="42" class="y"/><use href="#c" x="1232" y="42" class="g"/>
<use href="#c" x="1054" y="64" class="u"/><use href="#c" x="1410" y="64" class="r"/><use href="#c" x="1435" y="64" class="r"/><use href="#c" x="1563" y="64" class="k"/><use href="#c" x="1385" y="86" class="r"/><use href="#c" x="1435" y="86" class="k"/>
<use href="#c" x="238" y="152" class="r"/><use href="#c" x="772" y="152" class="k"/><use href="#c" x="108" y="174" class="m"/><use href="#c" x="211" y="174" class="s"/><use href="#c" x="264" y="174" class="r"/><use href="#c" x="1334" y="174" class="w"/>
<use href="#c" x="238" y="196" class="o"/><use href="#c" x="264" y="196" class="k"/><use href="#c" x="952" y="196" class="o"/><use href="#c" x="1155" y="196" class="g"/><use href="#c" x="238" y="218" class="o"/><use href="#c" x="721" y="218" class="p"/>
<use href="#c" x="59" y="240" class="g"/><use href="#c" x="594" y="240" class="m"/><use href="#c" x="926" y="240" class="o"/><use href="#c" x="543" y="262" class="r"/><use href="#c" x="1410" y="262" class="o"/>
<use href="#c" x="518" y="284" class="k"/><use href="#c" x="1206" y="284" class="r"/><use href="#c" x="1232" y="284" class="v"/><use href="#c" x="1410" y="284" class="r"/><use href="#c" x="211" y="306" class="g"/><use href="#c" x="1232" y="306" class="p"/>
<use href="#c" x="492" y="328" class="r"/><use href="#c" x="772" y="328" class="m"/><use href="#c" x="798" y="328" class="s"/><use href="#c" x="976" y="328" class="m"/>
<use href="#c" x="390" y="350" class="r"/><use href="#c" x="772" y="350" class="k"/><use href="#c" x="952" y="350" class="r"/><use href="#c" x="976" y="350" class="o"/><use href="#c" x="1563" y="350" class="s"/>
<use href="#c" x="313" y="372" class="r"/><use href="#c" x="339" y="372" class="m"/><use href="#c" x="952" y="372" class="y"/><use href="#c" x="976" y="372" class="y"/><use href="#c" x="313" y="394" class="r"/><use href="#c" x="900" y="394" class="k"/>
<use href="#c" x="721" y="418" class="p"/><use href="#c" x="1206" y="418" class="p"/><use href="#c" x="287" y="440" class="s"/><use href="#c" x="313" y="440" class="u"/><use href="#c" x="1054" y="440" class="p"/><use href="#c" x="1206" y="440" class="u"/>
<use href="#c" x="569" y="462" class="m"/><use href="#c" x="874" y="462" class="o"/><use href="#c" x="1003" y="462" class="u"/><use href="#c" x="1054" y="462" class="i"/><use href="#c" x="1079" y="462" class="s"/><use href="#c" x="1130" y="462" class="u"/><use href="#c" x="1155" y="462" class="s"/><use href="#c" x="1181" y="462" class="m"/>
<use href="#c" x="1029" y="484" class="p"/><use href="#c" x="1054" y="484" class="o"/><use href="#c" x="238" y="506" class="p"/><use href="#c" x="492" y="506" class="g"/><use href="#c" x="594" y="506" class="m"/><use href="#c" x="569" y="528" class="v"/><use href="#c" x="594" y="528" class="m"/>
<use href="#c" x="211" y="550" class="y"/><use href="#c" x="747" y="550" class="v"/><use href="#c" x="1029" y="550" class="v"/><use href="#c" x="900" y="572" class="u"/>
<use href="#c" x="747" y="882" class="o"/><use href="#c" x="926" y="882" class="r"/><use href="#c" x="926" y="904" class="g"/><use href="#c" x="1029" y="1016" class="r"/>
<use href="#c" x="569" y="1038" class="u"/><use href="#c" x="594" y="1038" class="o"/><use href="#c" x="543" y="1060" class="r"/><use href="#c" x="569" y="1060" class="m"/><use href="#c" x="518" y="1082" class="o"/><use href="#c" x="1410" y="1082" class="z"/><use href="#c" x="1537" y="1082" class="v"/>
<use href="#c" x="33" y="1126" class="s"/><use href="#c" x="1308" y="1126" class="d"/><use href="#c" x="1334" y="1126" class="i"/><use href="#c" x="1513" y="1126" class="u"/><use href="#c" x="1537" y="1126" class="v"/>
<use href="#c" x="1283" y="1148" class="p"/><use href="#c" x="1308" y="1148" class="p"/><use href="#c" x="1334" y="1148" class="u"/><use href="#c" x="1537" y="1148" class="m"/>
<use href="#c" x="1206" y="1238" class="g"/><use href="#c" x="670" y="1280" class="o"/><use href="#c" x="467" y="1304" class="o"/><use href="#c" x="1461" y="1304" class="i"/>
<use href="#c" x="850" y="1326" class="i"/><use href="#c" x="1334" y="1326" class="u"/><use href="#c" x="1410" y="1326" class="m"/>
<use href="#c" x="135" y="1348" class="u"/><use href="#c" x="160" y="1348" class="u"/><use href="#c" x="721" y="1348" class="s"/><use href="#c" x="850" y="1348" class="s"/><use href="#c" x="874" y="1348" class="m"/><use href="#c" x="900" y="1348" class="u"/><use href="#c" x="1308" y="1348" class="s"/><use href="#c" x="1334" y="1348" class="u"/><use href="#c" x="1359" y="1348" class="w"/><use href="#c" x="1410" y="1348" class="v"/>
<use href="#c" x="135" y="1370" class="p"/><use href="#c" x="160" y="1370" class="p"/><use href="#c" x="850" y="1370" class="k"/><use href="#c" x="976" y="1370" class="u"/><use href="#c" x="1283" y="1370" class="p"/><use href="#c" x="1308" y="1370" class="p"/><use href="#c" x="1359" y="1370" class="v"/>
<use href="#c" x="33" y="1392" class="b"/><use href="#c" x="108" y="1392" class="r"/><use href="#c" x="518" y="1392" class="s"/><use href="#c" x="926" y="1392" class="r"/><use href="#c" x="952" y="1392" class="p"/><use href="#c" x="976" y="1392" class="p"/><use href="#c" x="1283" y="1392" class="m"/><use href="#c" x="1308" y="1392" class="u"/><use href="#c" x="1385" y="1392" class="v"/>
<use href="#c" x="33" y="1414" class="m"/><use href="#c" x="135" y="1414" class="u"/><use href="#c" x="492" y="1414" class="o"/><use href="#c" x="518" y="1414" class="r"/><use href="#c" x="543" y="1414" class="p"/><use href="#c" x="569" y="1414" class="p"/><use href="#c" x="594" y="1414" class="u"/><use href="#c" x="620" y="1414" class="v"/><use href="#c" x="926" y="1414" class="o"/><use href="#c" x="952" y="1414" class="o"/><use href="#c" x="976" y="1414" class="r"/><use href="#c" x="1054" y="1414" class="u"/><use href="#c" x="1257" y="1414" class="s"/><use href="#c" x="1385" y="1414" class="u"/>
<use href="#c" x="238" y="1436" class="v"/><use href="#c" x="518" y="1436" class="k"/><use href="#c" x="543" y="1436" class="r"/><use href="#c" x="569" y="1436" class="r"/><use href="#c" x="594" y="1436" class="p"/><use href="#c" x="1029" y="1436" class="r"/><use href="#c" x="1155" y="1436" class="u"/><use href="#c" x="1181" y="1436" class="u"/><use href="#c" x="1206" y="1436" class="p"/><use href="#c" x="1232" y="1436" class="r"/><use href="#c" x="1257" y="1436" class="r"/>
<use href="#c" x="135" y="1458" class="p"/><use href="#c" x="186" y="1458" class="s"/><use href="#c" x="339" y="1458" class="v"/><use href="#c" x="569" y="1458" class="o"/><use href="#c" x="594" y="1458" class="r"/><use href="#c" x="620" y="1458" class="s"/><use href="#c" x="1155" y="1458" class="r"/><use href="#c" x="1181" y="1458" class="r"/>
<use href="#c" x="135" y="1480" class="p"/><use href="#c" x="160" y="1480" class="m"/><use href="#c" x="339" y="1480" class="m"/><use href="#c" x="365" y="1480" class="i"/><use href="#c" x="569" y="1480" class="r"/><use href="#c" x="594" y="1480" class="r"/><use href="#c" x="620" y="1480" class="u"/><use href="#c" x="645" y="1480" class="u"/>
<use href="#c" x="84" y="1502" class="i"/><use href="#c" x="108" y="1502" class="u"/><use href="#c" x="135" y="1502" class="p"/><use href="#c" x="160" y="1502" class="m"/><use href="#c" x="339" y="1502" class="r"/><use href="#c" x="365" y="1502" class="p"/><use href="#c" x="390" y="1502" class="i"/><use href="#c" x="569" y="1502" class="k"/><use href="#c" x="594" y="1502" class="o"/><use href="#c" x="620" y="1502" class="r"/><use href="#c" x="645" y="1502" class="p"/>
<use href="#c" x="84" y="1524" class="s"/><use href="#c" x="108" y="1524" class="m"/><use href="#c" x="135" y="1524" class="p"/><use href="#c" x="313" y="1524" class="g"/><use href="#c" x="339" y="1524" class="o"/><use href="#c" x="365" y="1524" class="r"/><use href="#c" x="390" y="1524" class="s"/><use href="#c" x="416" y="1524" class="u"/><use href="#c" x="594" y="1524" class="g"/><use href="#c" x="620" y="1524" class="r"/><use href="#c" x="645" y="1524" class="r"/><use href="#c" x="670" y="1524" class="r"/><use href="#c" x="900" y="1524" class="p"/><use href="#c" x="1334" y="1524" class="m"/>
<use href="#c" x="59" y="1546" class="s"/><use href="#c" x="84" y="1546" class="r"/><use href="#c" x="108" y="1546" class="r"/><use href="#c" x="135" y="1546" class="s"/><use href="#c" x="160" y="1546" class="v"/><use href="#c" x="313" y="1546" class="g"/><use href="#c" x="339" y="1546" class="k"/><use href="#c" x="365" y="1546" class="o"/><use href="#c" x="390" y="1546" class="s"/><use href="#c" x="416" y="1546" class="s"/><use href="#c" x="441" y="1546" class="s"/><use href="#c" x="467" y="1546" class="u"/><use href="#c" x="645" y="1546" class="r"/><use href="#c" x="670" y="1546" class="r"/>
</g>
<!-- Z8 -->
<g transform="translate(20 1600) scale(0.42092 0.48852)">
<use href="#c" x="84" y="0" class="o"/><use href="#c" x="108" y="0" class="o"/><use href="#c" x="135" y="0" class="s"/><use href="#c" x="160" y="0" class="s"/><use href="#c" x="339" y="0" class="g"/><use href="#c" x="390" y="0" class="k"/><use href="#c" x="645" y="0" class="o"/><use href="#c" x="670" y="0" class="k"/><use href="#c" x="926" y="0" class="r"/>
<use href="#c" x="594" y="22" class="m"/><use href="#c" x="620" y="22" class="r"/><use href="#c" x="645" y="22" class="m"/><use href="#c" x="670" y="22" class="m"/><use href="#c" x="926" y="22" class="g"/><use href="#c" x="1003" y="22" class="i"/><use href="#c" x="1563" y="22" class="r"/>
<use href="#c" x="543" y="44" class="u"/><use href="#c" x="569" y="44" class="m"/><use href="#c" x="594" y="44" class="s"/><use href="#c" x="620" y="44" class="r"/><use href="#c" x="645" y="44" class="p"/><use href="#c" x="670" y="44" class="u"/><use href="#c" x="823" y="44" class="m"/><use href="#c" x="849" y="44" class="s"/><use href="#c" x="1003" y="44" class="p"/><use href="#c" x="1206" y="44" class="z"/>
<use href="#c" x="238" y="66" class="u"/><use href="#c" x="287" y="66" class="u"/><use href="#c" x="518" y="66" class="r"/><use href="#c" x="543" y="66" class="s"/><use href="#c" x="569" y="66" class="s"/><use href="#c" x="594" y="66" class="s"/><use href="#c" x="620" y="66" class="p"/><use href="#c" x="645" y="66" class="p"/><use href="#c" x="670" y="66" class="p"/><use href="#c" x="696" y="66" class="m"/><use href="#c" x="721" y="66" class="m"/><use href="#c" x="747" y="66" class="s"/><use href="#c" x="772" y="66" class="r"/><use href="#c" x="798" y="66" class="r"/><use href="#c" x="823" y="66" class="o"/><use href="#c" x="976" y="66" class="o"/><use href="#c" x="1003" y="66" class="v"/><use href="#c" x="1155" y="66" class="m"/><use href="#c" x="1181" y="66" class="u"/><use href="#c" x="1206" y="66" class="u"/><use href="#c" x="1232" y="66" class="u"/><use href="#c" x="1257" y="66" class="n"/><use href="#c" x="1283" y="66" class="i"/>
<use href="#c" x="33" y="88" class="w"/><use href="#c" x="287" y="88" class="u"/><use href="#c" x="313" y="88" class="i"/><use href="#c" x="492" y="88" class="r"/><use href="#c" x="518" y="88" class="k"/><use href="#c" x="543" y="88" class="o"/><use href="#c" x="569" y="88" class="o"/><use href="#c" x="594" y="88" class="o"/><use href="#c" x="620" y="88" class="s"/><use href="#c" x="645" y="88" class="s"/><use href="#c" x="670" y="88" class="s"/><use href="#c" x="696" y="88" class="r"/><use href="#c" x="721" y="88" class="r"/><use href="#c" x="1003" y="88" class="s"/><use href="#c" x="1029" y="88" class="u"/><use href="#c" x="1155" y="88" class="m"/><use href="#c" x="1181" y="88" class="p"/><use href="#c" x="1206" y="88" class="s"/><use href="#c" x="1232" y="88" class="r"/><use href="#c" x="1257" y="88" class="s"/><use href="#c" x="1283" y="88" class="u"/><use href="#c" x="1308" y="88" class="v"/><use href="#c" x="1334" y="88" class="v"/>
<use href="#c" x="33" y="110" class="m"/><use href="#c" x="287" y="110" class="r"/><use href="#c" x="313" y="110" class="u"/><use href="#c" x="339" y="110" class="u"/><use href="#c" x="365" y="110" class="s"/><use href="#c" x="390" y="110" class="m"/><use href="#c" x="416" y="110" class="u"/><use href="#c" x="441" y="110" class="p"/><use href="#c" x="467" y="110" class="r"/><use href="#c" x="492" y="110" class="o"/><use href="#c" x="518" y="110" class="k"/><use href="#c" x="543" y="110" class="k"/><use href="#c" x="569" y="110" class="o"/><use href="#c" x="594" y="110" class="o"/><use href="#c" x="620" y="110" class="s"/><use href="#c" x="645" y="110" class="r"/><use href="#c" x="670" y="110" class="r"/><use href="#c" x="696" y="110" class="o"/><use href="#c" x="849" y="110" class="s"/><use href="#c" x="1003" y="110" class="r"/><use href="#c" x="1029" y="110" class="p"/><use href="#c" x="1079" y="110" class="w"/><use href="#c" x="1105" y="110" class="v"/><use href="#c" x="1130" y="110" class="v"/><use href="#c" x="1155" y="110" class="v"/><use href="#c" x="1283" y="110" class="s"/><use href="#c" x="1308" y="110" class="m"/><use href="#c" x="1334" y="110" class="m"/><use href="#c" x="1359" y="110" class="v"/>
<use href="#c" x="33" y="132" class="s"/><use href="#c" x="287" y="132" class="k"/><use href="#c" x="313" y="132" class="o"/><use href="#c" x="339" y="132" class="s"/><use href="#c" x="365" y="132" class="s"/><use href="#c" x="390" y="132" class="r"/><use href="#c" x="416" y="132" class="s"/><use href="#c" x="441" y="132" class="p"/><use href="#c" x="467" y="132" class="s"/><use href="#c" x="594" y="132" class="o"/><use href="#c" x="645" y="132" class="y"/><use href="#c" x="670" y="132" class="o"/><use href="#c" x="823" y="132" class="k"/><use href="#c" x="849" y="132" class="s"/><use href="#c" x="874" y="132" class="m"/><use href="#c" x="1003" y="132" class="o"/><use href="#c" x="1029" y="132" class="r"/><use href="#c" x="1054" y="132" class="p"/><use href="#c" x="1079" y="132" class="u"/><use href="#c" x="1105" y="132" class="m"/><use href="#c" x="1130" y="132" class="u"/><use href="#c" x="1155" y="132" class="u"/><use href="#c" x="1181" y="132" class="v"/><use href="#c" x="1283" y="132" class="o"/><use href="#c" x="1308" y="132" class="p"/><use href="#c" x="1334" y="132" class="u"/>
<use href="#c" x="33" y="154" class="r"/><use href="#c" x="59" y="154" class="s"/><use href="#c" x="135" y="154" class="u"/><use href="#c" x="287" y="154" class="g"/><use href="#c" x="313" y="154" class="o"/><use href="#c" x="339" y="154" class="r"/><use href="#c" x="365" y="154" class="r"/><use href="#c" x="390" y="154" class="r"/><use href="#c" x="416" y="154" class="r"/><use href="#c" x="441" y="154" class="r"/><use href="#c" x="467" y="154" class="s"/><use href="#c" x="492" y="154" class="s"/><use href="#c" x="518" y="154" class="v"/><use href="#c" x="569" y="154" class="s"/><use href="#c" x="670" y="154" class="y"/><use href="#c" x="823" y="154" class="y"/><use href="#c" x="849" y="154" class="k"/><use href="#c" x="874" y="154" class="r"/><use href="#c" x="900" y="154" class="u"/><use href="#c" x="926" y="154" class="v"/><use href="#c" x="952" y="154" class="w"/><use href="#c" x="976" y="154" class="p"/><use href="#c" x="1003" y="154" class="s"/><use href="#c" x="1029" y="154" class="o"/><use href="#c" x="1054" y="154" class="r"/><use href="#c" x="1079" y="154" class="s"/><use href="#c" x="1105" y="154" class="s"/><use href="#c" x="1130" y="154" class="r"/><use href="#c" x="1155" y="154" class="p"/><use href="#c" x="1181" y="154" class="m"/><use href="#c" x="1308" y="154" class="r"/><use href="#c" x="1334" y="154" class="s"/><use href="#c" x="1487" y="154" class="p"/><use href="#c" x="1537" y="154" class="u"/><use href="#c" x="1563" y="154" class="p"/>
<use href="#c" x="339" y="176" class="o"/><use href="#c" x="365" y="176" class="r"/><use href="#c" x="390" y="176" class="o"/><use href="#c" x="416" y="176" class="g"/><use href="#c" x="441" y="176" class="y"/><use href="#c" x="467" y="176" class="k"/><use href="#c" x="518" y="176" class="v"/><use href="#c" x="543" y="176" class="m"/><use href="#c" x="569" y="176" class="s"/><use href="#c" x="874" y="176" class="o"/><use href="#c" x="900" y="176" class="s"/><use href="#c" x="926" y="176" class="p"/><use href="#c" x="952" y="176" class="m"/><use href="#c" x="976" y="176" class="m"/><use href="#c" x="1003" y="176" class="s"/><use href="#c" x="1029" y="176" class="o"/><use href="#c" x="1105" y="176" class="k"/><use href="#c" x="1130" y="176" class="s"/><use href="#c" x="1155" y="176" class="p"/><use href="#c" x="1181" y="176" class="i"/><use href="#c" x="1206" y="176" class="i"/><use href="#c" x="1334" y="176" class="o"/><use href="#c" x="1537" y="176" class="m"/>
<use href="#c" x="339" y="198" class="g"/><use href="#c" x="365" y="198" class="y"/><use href="#c" x="467" y="198" class="g"/><use href="#c" x="492" y="198" class="p"/><use href="#c" x="518" y="198" class="p"/><use href="#c" x="543" y="198" class="p"/><use href="#c" x="569" y="198" class="m"/><use href="#c" x="849" y="198" class="g"/><use href="#c" x="874" y="198" class="g"/><use href="#c" x="900" y="198" class="o"/><use href="#c" x="926" y="198" class="r"/><use href="#c" x="952" y="198" class="r"/><use href="#c" x="976" y="198" class="p"/><use href="#c" x="1003" y="198" class="u"/><use href="#c" x="1029" y="198" class="r"/><use href="#c" x="1105" y="198" class="k"/><use href="#c" x="1155" y="198" class="r"/><use href="#c" x="1181" y="198" class="m"/><use href="#c" x="1206" y="198" class="i"/><use href="#c" x="1359" y="198" class="w"/>
<use href="#c" x="492" y="220" class="o"/><use href="#c" x="518" y="220" class="s"/><use href="#c" x="543" y="220" class="s"/><use href="#c" x="569" y="220" class="s"/><use href="#c" x="952" y="220" class="o"/><use href="#c" x="976" y="220" class="s"/><use href="#c" x="1003" y="220" class="s"/><use href="#c" x="1029" y="220" class="s"/><use href="#c" x="1155" y="220" class="o"/><use href="#c" x="1334" y="220" class="m"/><use href="#c" x="1359" y="220" class="v"/><use href="#c" x="1435" y="220" class="w"/><use href="#c" x="1461" y="220" class="w"/><use href="#c" x="1537" y="220" class="u"/>
<use href="#c" x="492" y="242" class="k"/><use href="#c" x="518" y="242" class="r"/><use href="#c" x="543" y="242" class="r"/><use href="#c" x="569" y="242" class="o"/><use href="#c" x="952" y="242" class="o"/><use href="#c" x="976" y="242" class="s"/><use href="#c" x="1003" y="242" class="s"/><use href="#c" x="1029" y="242" class="p"/><use href="#c" x="1155" y="242" class="k"/><use href="#c" x="1181" y="242" class="v"/><use href="#c" x="1385" y="242" class="u"/><use href="#c" x="1410" y="242" class="u"/><use href="#c" x="1435" y="242" class="u"/><use href="#c" x="1461" y="242" class="u"/><use href="#c" x="1487" y="242" class="u"/><use href="#c" x="1513" y="242" class="n"/><use href="#c" x="1537" y="242" class="w"/>
<use href="#c" x="467" y="264" class="y"/><use href="#c" x="492" y="264" class="k"/><use href="#c" x="518" y="264" class="o"/><use href="#c" x="543" y="264" class="o"/><use href="#c" x="569" y="264" class="g"/><use href="#c" x="772" y="264" class="u"/><use href="#c" x="798" y="264" class="u"/><use href="#c" x="926" y="264" class="o"/><use href="#c" x="952" y="264" class="r"/><use href="#c" x="976" y="264" class="s"/><use href="#c" x="1003" y="264" class="p"/><use href="#c" x="1155" y="264" class="s"/><use href="#c" x="1181" y="264" class="d"/><use href="#c" x="1385" y="264" class="p"/><use href="#c" x="1410" y="264" class="m"/><use href="#c" x="1435" y="264" class="v"/><use href="#c" x="1461" y="264" class="w"/><use href="#c" x="1537" y="264" class="w"/>
<use href="#c" x="33" y="286" class="u"/><use href="#c" x="313" y="286" class="u"/><use href="#c" x="543" y="286" class="g"/><use href="#c" x="569" y="286" class="g"/><use href="#c" x="721" y="286" class="o"/><use href="#c" x="747" y="286" class="p"/><use href="#c" x="772" y="286" class="s"/><use href="#c" x="798" y="286" class="s"/><use href="#c" x="823" y="286" class="r"/><use href="#c" x="849" y="286" class="p"/><use href="#c" x="926" y="286" class="r"/><use href="#c" x="952" y="286" class="r"/><use href="#c" x="976" y="286" class="p"/><use href="#c" x="1003" y="286" class="p"/><use href="#c" x="1181" y="286" class="s"/><use href="#c" x="1385" y="286" class="o"/><use href="#c" x="1410" y="286" class="p"/><use href="#c" x="1435" y="286" class="p"/><use href="#c" x="1461" y="286" class="p"/><use href="#c" x="1513" y="286" class="u"/><use href="#c" x="1537" y="286" class="p"/>
<use href="#c" x="33" y="308" class="m"/><use href="#c" x="339" y="308" class="u"/><use href="#c" x="365" y="308" class="i"/><use href="#c" x="543" y="308" class="s"/><use href="#c" x="721" y="308" class="k"/><use href="#c" x="747" y="308" class="r"/><use href="#c" x="772" y="308" class="s"/><use href="#c" x="798" y="308" class="s"/><use href="#c" x="823" y="308" class="r"/><use href="#c" x="900" y="308" class="g"/><use href="#c" x="926" y="308" class="r"/><use href="#c" x="952" y="308" class="s"/><use href="#c" x="976" y="308" class="m"/><use href="#c" x="1003" y="308" class="m"/><use href="#c" x="1029" y="308" class="v"/><use href="#c" x="1054" y="308" class="n"/><use href="#c" x="1206" y="308" class="k"/><use href="#c" x="1232" y="308" class="d"/><use href="#c" x="1410" y="308" class="r"/><use href="#c" x="1435" y="308" class="p"/>
<use href="#c" x="33" y="330" class="m"/><use href="#c" x="339" y="330" class="r"/><use href="#c" x="365" y="330" class="p"/><use href="#c" x="390" y="330" class="i"/><use href="#c" x="518" y="330" class="o"/><use href="#c" x="696" y="330" class="k"/><use href="#c" x="721" y="330" class="s"/><use href="#c" x="747" y="330" class="p"/><use href="#c" x="772" y="330" class="r"/><use href="#c" x="952" y="330" class="m"/><use href="#c" x="976" y="330" class="u"/><use href="#c" x="1003" y="330" class="u"/><use href="#c" x="1029" y="330" class="u"/><use href="#c" x="1054" y="330" class="v"/><use href="#c" x="1232" y="330" class="m"/><use href="#c" x="1435" y="330" class="s"/>
<use href="#c" x="186" y="352" class="v"/><use href="#c" x="365" y="352" class="o"/><use href="#c" x="390" y="352" class="u"/><use href="#c" x="518" y="352" class="o"/><use href="#c" x="696" y="352" class="r"/><use href="#c" x="721" y="352" class="v"/><use href="#c" x="747" y="352" class="u"/><use href="#c" x="772" y="352" class="u"/><use href="#c" x="1003" y="352" class="s"/><use href="#c" x="1029" y="352" class="m"/><use href="#c" x="1232" y="352" class="s"/><use href="#c" x="1257" y="352" class="u"/><use href="#c" x="1410" y="352" class="o"/><use href="#c" x="1435" y="352" class="o"/>
<use href="#c" x="59" y="374" class="m"/><use href="#c" x="84" y="374" class="m"/><use href="#c" x="416" y="374" class="m"/><use href="#c" x="696" y="374" class="p"/><use href="#c" x="721" y="374" class="u"/><use href="#c" x="747" y="374" class="v"/><use href="#c" x="1206" y="374" class="o"/><use href="#c" x="1232" y="374" class="m"/><use href="#c" x="1257" y="374" class="m"/><use href="#c" x="1283" y="374" class="r"/><use href="#c" x="1410" y="374" class="o"/>
<use href="#c" x="594" y="396" class="b"/><use href="#c" x="620" y="396" class="i"/><use href="#c" x="645" y="396" class="w"/><use href="#c" x="670" y="396" class="i"/><use href="#c" x="696" y="396" class="w"/><use href="#c" x="721" y="396" class="w"/><use href="#c" x="747" y="396" class="w"/><use href="#c" x="772" y="396" class="i"/><use href="#c" x="1206" y="396" class="r"/><use href="#c" x="1232" y="396" class="m"/><use href="#c" x="1257" y="396" class="s"/>
<use href="#c" x="594" y="418" class="v"/><use href="#c" x="620" y="418" class="v"/><use href="#c" x="645" y="418" class="u"/><use href="#c" x="670" y="418" class="u"/><use href="#c" x="696" y="418" class="m"/><use href="#c" x="721" y="418" class="u"/><use href="#c" x="747" y="418" class="b"/><use href="#c" x="1054" y="418" class="v"/><use href="#c" x="1232" y="418" class="s"/><use href="#c" x="1257" y="418" class="m"/>
<use href="#c" x="594" y="440" class="p"/><use href="#c" x="747" y="440" class="v"/><use href="#c" x="772" y="440" class="i"/><use href="#c" x="1257" y="440" class="p"/><use href="#c" x="84" y="462" class="r"/><use href="#c" x="1029" y="462" class="m"/><use href="#c" x="1257" y="462" class="u"/><use href="#c" x="1385" y="462" class="u"/>
<use href="#c" x="1257" y="484" class="r"/><use href="#c" x="1359" y="484" class="m"/><use href="#c" x="1385" y="484" class="p"/>
<use href="#c" x="238" y="572" class="r"/><use href="#c" x="264" y="572" class="p"/><use href="#c" x="287" y="572" class="w"/><use href="#c" x="874" y="594" class="w"/><use href="#c" x="135" y="660" class="u"/>
<use href="#c" x="287" y="768" class="n"/><use href="#c" x="313" y="768" class="i"/><use href="#c" x="264" y="790" class="u"/><use href="#c" x="287" y="790" class="u"/><use href="#c" x="313" y="790" class="z"/><use href="#c" x="313" y="812" class="p"/><use href="#c" x="339" y="812" class="w"/>
<use href="#c" x="313" y="834" class="u"/><use href="#c" x="339" y="834" class="u"/><use href="#c" x="365" y="834" class="z"/>
<use href="#c" x="33" y="856" class="m"/><use href="#c" x="59" y="856" class="m"/><use href="#c" x="313" y="856" class="o"/><use href="#c" x="339" y="856" class="p"/><use href="#c" x="365" y="856" class="v"/><use href="#c" x="390" y="856" class="z"/><use href="#c" x="620" y="856" class="n"/>
<use href="#c" x="390" y="878" class="p"/><use href="#c" x="594" y="878" class="w"/><use href="#c" x="620" y="878" class="d"/><use href="#c" x="849" y="902" class="z"/><use href="#c" x="874" y="902" class="z"/><use href="#c" x="900" y="902" class="b"/>
<use href="#c" x="594" y="924" class="w"/><use href="#c" x="772" y="924" class="n"/><use href="#c" x="798" y="924" class="b"/><use href="#c" x="823" y="924" class="i"/><use href="#c" x="849" y="924" class="w"/><use href="#c" x="874" y="924" class="v"/>
<use href="#c" x="416" y="946" class="s"/><use href="#c" x="772" y="946" class="v"/><use href="#c" x="798" y="946" class="i"/><use href="#c" x="823" y="946" class="v"/><use href="#c" x="849" y="946" class="u"/>
<use href="#c" x="84" y="968" class="w"/><use href="#c" x="108" y="968" class="w"/><use href="#c" x="416" y="968" class="s"/><use href="#c" x="772" y="968" class="v"/><use href="#c" x="798" y="968" class="i"/><use href="#c" x="823" y="968" class="v"/>
<use href="#c" x="84" y="990" class="w"/><use href="#c" x="108" y="990" class="v"/><use href="#c" x="135" y="990" class="w"/><use href="#c" x="160" y="990" class="b"/><use href="#c" x="186" y="990" class="z"/><use href="#c" x="441" y="990" class="u"/><use href="#c" x="772" y="990" class="u"/><use href="#c" x="798" y="990" class="i"/><use href="#c" x="823" y="990" class="w"/><use href="#c" x="849" y="990" class="w"/>
<use href="#c" x="84" y="1012" class="r"/><use href="#c" x="108" y="1012" class="v"/><use href="#c" x="135" y="1012" class="v"/><use href="#c" x="160" y="1012" class="w"/><use href="#c" x="186" y="1012" class="i"/><use href="#c" x="1181" y="1012" class="i"/>
<use href="#c" x="84" y="1034" class="u"/><use href="#c" x="108" y="1034" class="u"/><use href="#c" x="135" y="1034" class="v"/><use href="#c" x="160" y="1034" class="w"/><use href="#c" x="186" y="1034" class="n"/><use href="#c" x="441" y="1034" class="s"/><use href="#c" x="798" y="1034" class="v"/><use href="#c" x="1181" y="1034" class="w"/>
<use href="#c" x="84" y="1056" class="m"/><use href="#c" x="108" y="1056" class="u"/><use href="#c" x="135" y="1056" class="v"/><use href="#c" x="160" y="1056" class="u"/><use href="#c" x="211" y="1056" class="w"/><use href="#c" x="390" y="1056" class="n"/><use href="#c" x="823" y="1056" class="i"/><use href="#c" x="1130" y="1056" class="i"/><use href="#c" x="1232" y="1056" class="d"/>
<use href="#c" x="84" y="1078" class="s"/><use href="#c" x="108" y="1078" class="m"/><use href="#c" x="135" y="1078" class="v"/><use href="#c" x="186" y="1078" class="m"/><use href="#c" x="211" y="1078" class="s"/><use href="#c" x="1105" y="1078" class="b"/><use href="#c" x="1130" y="1078" class="i"/><use href="#c" x="1155" y="1078" class="i"/><use href="#c" x="1181" y="1078" class="i"/>
<use href="#c" x="108" y="1100" class="m"/><use href="#c" x="135" y="1100" class="v"/><use href="#c" x="160" y="1100" class="v"/><use href="#c" x="313" y="1100" class="b"/><use href="#c" x="1130" y="1100" class="i"/><use href="#c" x="1155" y="1100" class="i"/><use href="#c" x="1181" y="1100" class="i"/>
<use href="#c" x="84" y="1122" class="r"/><use href="#c" x="108" y="1122" class="v"/><use href="#c" x="287" y="1122" class="v"/><use href="#c" x="313" y="1122" class="b"/><use href="#c" x="339" y="1122" class="v"/><use href="#c" x="620" y="1122" class="w"/><use href="#c" x="1079" y="1122" class="v"/><use href="#c" x="1130" y="1122" class="d"/><use href="#c" x="1155" y="1122" class="n"/><use href="#c" x="1181" y="1122" class="z"/>
<use href="#c" x="108" y="1144" class="v"/><use href="#c" x="287" y="1144" class="m"/><use href="#c" x="645" y="1144" class="b"/><use href="#c" x="1079" y="1144" class="w"/><use href="#c" x="1105" y="1144" class="d"/><use href="#c" x="1130" y="1144" class="n"/><use href="#c" x="1155" y="1144" class="n"/><use href="#c" x="1181" y="1144" class="z"/><use href="#c" x="1206" y="1144" class="z"/>
<use href="#c" x="108" y="1166" class="m"/><use href="#c" x="135" y="1166" class="b"/><use href="#c" x="339" y="1166" class="w"/><use href="#c" x="1105" y="1166" class="v"/><use href="#c" x="1130" y="1166" class="n"/><use href="#c" x="1155" y="1166" class="n"/><use href="#c" x="1435" y="1166" class="b"/><use href="#c" x="1461" y="1166" class="z"/><use href="#c" x="1487" y="1166" class="z"/>
<use href="#c" x="108" y="1188" class="u"/><use href="#c" x="135" y="1188" class="i"/><use href="#c" x="287" y="1188" class="v"/><use href="#c" x="390" y="1188" class="d"/><use href="#c" x="926" y="1188" class="n"/><use href="#c" x="952" y="1188" class="z"/><use href="#c" x="1105" y="1188" class="v"/><use href="#c" x="1130" y="1188" class="n"/><use href="#c" x="1155" y="1188" class="n"/><use href="#c" x="1181" y="1188" class="z"/><use href="#c" x="1206" y="1188" class="z"/><use href="#c" x="1461" y="1188" class="z"/><use href="#c" x="1487" y="1188" class="z"/>
<use href="#c" x="84" y="1210" class="u"/><use href="#c" x="108" y="1210" class="n"/><use href="#c" x="186" y="1210" class="z"/><use href="#c" x="287" y="1210" class="w"/><use href="#c" x="900" y="1210" class="m"/><use href="#c" x="926" y="1210" class="z"/><use href="#c" x="1105" y="1210" class="w"/><use href="#c" x="1130" y="1210" class="n"/><use href="#c" x="1155" y="1210" class="n"/><use href="#c" x="1181" y="1210" class="z"/><use href="#c" x="1206" y="1210" class="z"/><use href="#c" x="1308" y="1210" class="z"/><use href="#c" x="1461" y="1210" class="n"/><use href="#c" x="1487" y="1210" class="n"/>
<use href="#c" x="59" y="1232" class="u"/><use href="#c" x="84" y="1232" class="u"/><use href="#c" x="108" y="1232" class="v"/><use href="#c" x="135" y="1232" class="z"/><use href="#c" x="160" y="1232" class="n"/><use href="#c" x="186" y="1232" class="n"/><use href="#c" x="238" y="1232" class="m"/><use href="#c" x="264" y="1232" class="u"/><use href="#c" x="467" y="1232" class="u"/><use href="#c" x="926" y="1232" class="n"/><use href="#c" x="1079" y="1232" class="w"/><use href="#c" x="1105" y="1232" class="n"/><use href="#c" x="1130" y="1232" class="n"/><use href="#c" x="1155" y="1232" class="z"/><use href="#c" x="1181" y="1232" class="n"/><use href="#c" x="1206" y="1232" class="n"/><use href="#c" x="1232" y="1232" class="z"/><use href="#c" x="1308" y="1232" class="z"/><use href="#c" x="1334" y="1232" class="z"/><use href="#c" x="1359" y="1232" class="z"/><use href="#c" x="1461" y="1232" class="n"/><use href="#c" x="1487" y="1232" class="n"/>
<use href="#c" x="33" y="1254" class="b"/><use href="#c" x="59" y="1254" class="w"/><use href="#c" x="84" y="1254" class="w"/><use href="#c" x="108" y="1254" class="v"/><use href="#c" x="135" y="1254" class="w"/><use href="#c" x="160" y="1254" class="v"/><use href="#c" x="441" y="1254" class="s"/><use href="#c" x="467" y="1254" class="z"/><use href="#c" x="952" y="1254" class="d"/><use href="#c" x="1105" y="1254" class="b"/><use href="#c" x="1130" y="1254" class="d"/><use href="#c" x="1155" y="1254" class="n"/><use href="#c" x="1181" y="1254" class="n"/><use href="#c" x="1206" y="1254" class="z"/><use href="#c" x="1232" y="1254" class="z"/><use href="#c" x="1257" y="1254" class="z"/><use href="#c" x="1283" y="1254" class="n"/><use href="#c" x="1308" y="1254" class="z"/><use href="#c" x="1359" y="1254" class="z"/><use href="#c" x="1435" y="1254" class="z"/><use href="#c" x="1487" y="1254" class="i"/><use href="#c" x="1513" y="1254" class="n"/><use href="#c" x="1537" y="1254" class="z"/>
<use href="#c" x="33" y="1276" class="i"/><use href="#c" x="84" y="1276" class="w"/><use href="#c" x="108" y="1276" class="u"/><use href="#c" x="441" y="1276" class="s"/><use href="#c" x="467" y="1276" class="w"/><use href="#c" x="952" y="1276" class="b"/><use href="#c" x="976" y="1276" class="z"/><use href="#c" x="1105" y="1276" class="m"/><use href="#c" x="1130" y="1276" class="w"/><use href="#c" x="1155" y="1276" class="n"/><use href="#c" x="1181" y="1276" class="n"/><use href="#c" x="1206" y="1276" class="z"/><use href="#c" x="1232" y="1276" class="z"/><use href="#c" x="1257" y="1276" class="z"/><use href="#c" x="1283" y="1276" class="n"/><use href="#c" x="1308" y="1276" class="z"/><use href="#c" x="1487" y="1276" class="d"/><use href="#c" x="1513" y="1276" class="d"/>
<use href="#c" x="33" y="1298" class="u"/><use href="#c" x="59" y="1298" class="u"/><use href="#c" x="84" y="1298" class="m"/><use href="#c" x="108" y="1298" class="s"/><use href="#c" x="441" y="1298" class="r"/><use href="#c" x="926" y="1298" class="d"/><use href="#c" x="952" y="1298" class="z"/><use href="#c" x="1155" y="1298" class="z"/><use href="#c" x="1181" y="1298" class="z"/><use href="#c" x="1206" y="1298" class="n"/><use href="#c" x="1232" y="1298" class="n"/><use href="#c" x="1257" y="1298" class="n"/><use href="#c" x="1283" y="1298" class="n"/><use href="#c" x="1308" y="1298" class="z"/>
<use href="#c" x="441" y="1320" class="r"/><use href="#c" x="926" y="1320" class="i"/><use href="#c" x="952" y="1320" class="z"/><use href="#c" x="1130" y="1320" class="n"/><use href="#c" x="1155" y="1320" class="z"/><use href="#c" x="1283" y="1320" class="d"/><use href="#c" x="1308" y="1320" class="n"/><use href="#c" x="1334" y="1320" class="n"/>
<use href="#c" x="1130" y="1342" class="n"/><use href="#c" x="1155" y="1342" class="d"/><use href="#c" x="1257" y="1342" class="b"/>
<use href="#c" x="287" y="1364" class="b"/><use href="#c" x="313" y="1364" class="n"/><use href="#c" x="721" y="1364" class="i"/><use href="#c" x="747" y="1364" class="n"/><use href="#c" x="772" y="1364" class="n"/><use href="#c" x="952" y="1364" class="z"/><use href="#c" x="1257" y="1364" class="d"/><use href="#c" x="1385" y="1364" class="z"/>
<use href="#c" x="287" y="1386" class="z"/><use href="#c" x="313" y="1386" class="v"/><use href="#c" x="721" y="1386" class="w"/><use href="#c" x="747" y="1386" class="b"/><use href="#c" x="952" y="1386" class="b"/><use href="#c" x="976" y="1386" class="z"/><use href="#c" x="1105" y="1386" class="z"/><use href="#c" x="1232" y="1386" class="z"/><use href="#c" x="1257" y="1386" class="d"/>
</g>
<!-- Z9 -->
<g transform="translate(680 1600) scale(0.42092 0.48852)">
<use href="#c" x="21" y="0" class="m"/><use href="#c" x="0" y="22" class="r"/><use href="#c" x="199" y="0" class="o"/><use href="#c" x="224" y="22" class="u"/><use href="#c" x="379" y="0" class="m"/><use href="#c" x="404" y="0" class="z"/>
<use href="#c" x="0" y="156" class="u"/><use href="#c" x="0" y="178" class="m"/><use href="#c" x="123" y="200" class="u"/>
<use href="#c" x="0" y="266" class="i"/><use href="#c" x="0" y="288" class="u"/><use href="#c" x="21" y="288" class="w"/><use href="#c" x="47" y="288" class="d"/><use href="#c" x="0" y="310" class="v"/><use href="#c" x="21" y="310" class="w"/><use href="#c" x="47" y="310" class="w"/><use href="#c" x="72" y="310" class="i"/><use href="#c" x="97" y="310" class="d"/><use href="#c" x="0" y="332" class="u"/><use href="#c" x="21" y="332" class="v"/><use href="#c" x="47" y="332" class="i"/>
<use href="#c" x="1498" y="0" class="o"/><use href="#c" x="1498" y="22" class="o"/><use href="#c" x="1498" y="44" class="o"/><use href="#c" x="1498" y="66" class="o"/><use href="#c" x="1422" y="44" class="r"/><use href="#c" x="1473" y="44" class="o"/><use href="#c" x="1447" y="66" class="r"/>
<use href="#c" x="1372" y="200" class="p"/><use href="#c" x="1422" y="178" class="y"/><use href="#c" x="1447" y="178" class="y"/>
<use href="#c" x="47" y="990" class="n"/><use href="#c" x="72" y="990" class="z"/><use href="#c" x="47" y="1012" class="b"/><use href="#c" x="47" y="1034" class="i"/><use href="#c" x="72" y="1056" class="d"/><use href="#c" x="97" y="1056" class="z"/><use href="#c" x="72" y="1078" class="d"/><use href="#c" x="97" y="1078" class="z"/><use href="#c" x="123" y="1078" class="z"/>
<use href="#c" x="47" y="1100" class="d"/><use href="#c" x="72" y="1100" class="z"/><use href="#c" x="97" y="1100" class="z"/><use href="#c" x="123" y="1100" class="z"/><use href="#c" x="147" y="1100" class="z"/>
<use href="#c" x="21" y="1122" class="d"/><use href="#c" x="47" y="1122" class="d"/><use href="#c" x="72" y="1122" class="z"/><use href="#c" x="97" y="1122" class="z"/><use href="#c" x="123" y="1122" class="z"/><use href="#c" x="147" y="1122" class="z"/>
<use href="#c" x="47" y="1144" class="b"/><use href="#c" x="72" y="1144" class="z"/><use href="#c" x="97" y="1144" class="z"/><use href="#c" x="123" y="1144" class="z"/><use href="#c" x="147" y="1144" class="n"/>
<use href="#c" x="72" y="1166" class="n"/><use href="#c" x="97" y="1166" class="z"/><use href="#c" x="72" y="1188" class="z"/><use href="#c" x="97" y="1188" class="z"/><use href="#c" x="123" y="1188" class="z"/><use href="#c" x="72" y="1210" class="z"/><use href="#c" x="97" y="1210" class="z"/><use href="#c" x="72" y="1232" class="z"/><use href="#c" x="97" y="1232" class="z"/>
</g>
<!-- land -->
<path d="M871.5,1600 L886.2,1584 L896.8,1567 L915.7,1518.6 L936.7,1465.3 L962,1397.4 L985.2,1334.4 L991.5,1310.2 L993.6,1290.8 L997.8,1266.5 L1012.5,1247.1 L1025.1,1227.8 L1037.8,1196.3 L1050.4,1162.3 L1075.6,1128.4 L1100.9,1094.5 L1119.8,1063 L1147.2,1038.7 L1178.8,1019.3 L1201.9,1010.6 L1223,1007.2 L1244,1002.4 L1263,994.1 L1277.7,990.3 L1291.2,1001.4 L1296.6,1023.2 L1284,1037.8 L1271.4,1048.4 L1265,1063 L1260.8,1084.8 L1244,1130.8 L1233.5,1198.7 L1223,1261.7 L1210.3,1327.1 L1195.6,1365.9 L1190.1,1402.3 L1206.1,1436.2 L1218.8,1455.6 L1237.7,1491.9 L1241.9,1508.9 L1227.2,1547.7 L1225.1,1567 L1241.9,1575.8 L1250.3,1562.2 L1256.6,1542.8 L1265.9,1529.2 L1286.1,1538 L1292.4,1557.4 L1289.5,1576.8 L1281.9,1596.1 L1269.3,1600 L1239.8,1629.3 L1232.6,1641.5 L1233.5,1658.6 L1242.7,1684 L1233.5,1707.5 L1225.9,1727 L1238.5,1755.3 L1265.9,1772.4 L1299.6,1772.4 L1315.6,1758.8 L1326.1,1741.7 L1340,1720 L1340,2350 L904.5,2350 L903.9,2335 L901.8,2274.1 L899.7,2210.6 L894.7,2178.9 L875.7,2152 L865.2,2127.6 L856.8,2093.4 L848.4,2059.2 L825.2,2036.2 L800,2010.3 L774.7,1998.1 L757.9,1994.7 L741,1994.7 L747.3,1976.1 L754.9,1954.2 L755.8,1932.2 L745.2,1915.1 L741,1902.9 L740.2,1866.2 L736.8,1851.6 L730.5,1844.3 L727.1,1833.5 L732.6,1817.4 L743.1,1807.6 L766.3,1796.4 L777.6,1788.1 L791.5,1763.6 L804.2,1741.7 L818.9,1728 L825.2,1697.7 L829.4,1668.4 L835.7,1646.4 L848.4,1624.4 Z" fill="#bfbf81" stroke="#7f7f55" stroke-width="2.7" stroke-linejoin="round"/>
</g>
<!-- axes frame -->
<rect x="30.3" y="93.3" width="1296.4" height="2242.2" fill="none" stroke="#000" stroke-width="3.3"/>
<!-- colorbar -->
<rect x="1407.2" y="93.3" width="112" height="2242.2" fill="url(#cm)"/>
<rect x="1407.2" y="93.3" width="112" height="2242.2" fill="none" stroke="#000" stroke-width="3.3"/>
<g stroke="#000" stroke-width="3.3">
<line x1="1520.8" y1="415" x2="1535.4" y2="415"/><line x1="1520.8" y1="866.8" x2="1535.4" y2="866.8"/><line x1="1520.8" y1="1318.6" x2="1535.4" y2="1318.6"/><line x1="1520.8" y1="1770.5" x2="1535.4" y2="1770.5"/><line x1="1520.8" y1="2222.3" x2="1535.4" y2="2222.3"/>
</g>
<g font-size="41.67">
<text x="1549.3" y="430.2">301.0</text><text x="1549.3" y="882">300.5</text><text x="1549.3" y="1333.8">300.0</text><text x="1549.3" y="1785.7">299.5</text><text x="1549.3" y="2237.5">299.0</text>
</g>
<text transform="translate(1709 1214.4) rotate(-90)" font-size="41.67" text-anchor="middle">Sea Surface Temperature (K)</text>
</svg>
</body></html>
